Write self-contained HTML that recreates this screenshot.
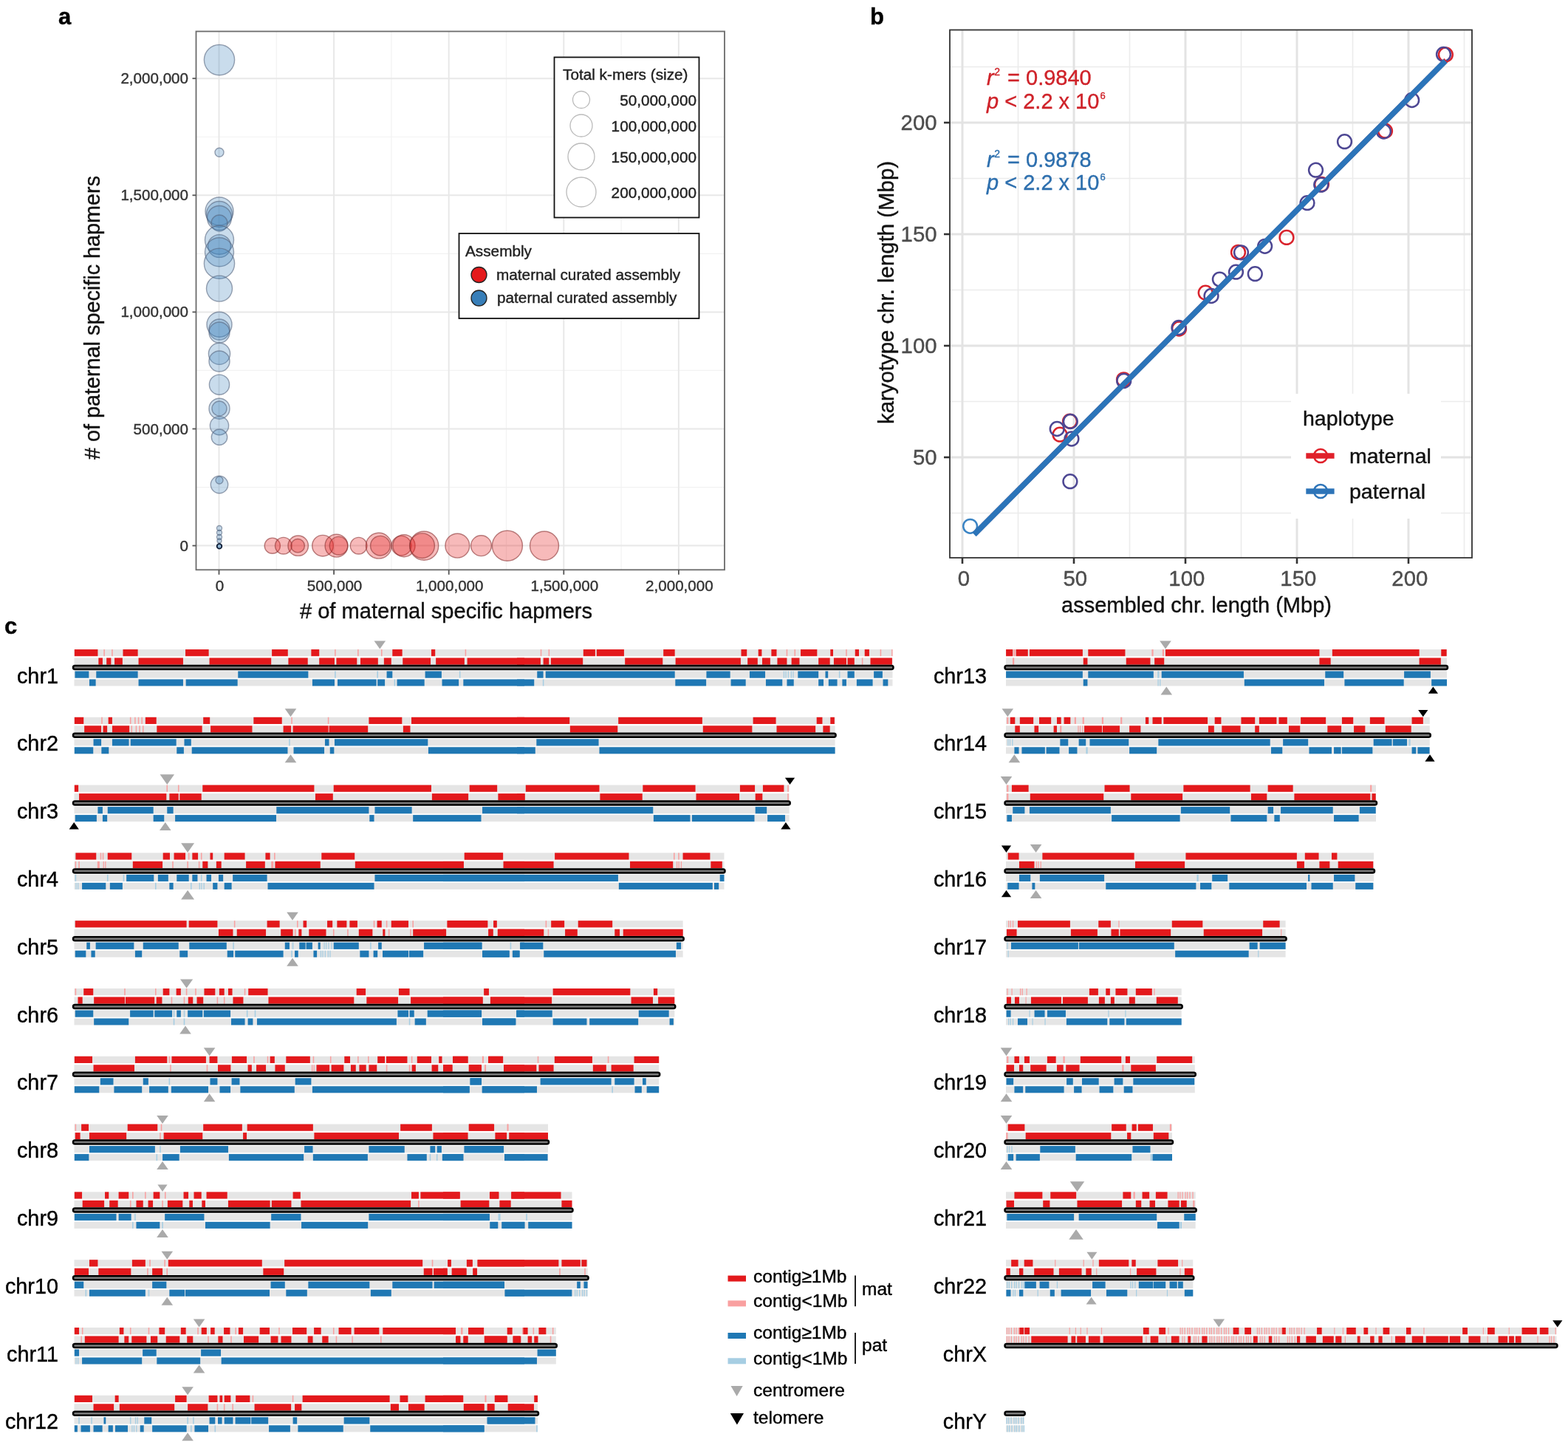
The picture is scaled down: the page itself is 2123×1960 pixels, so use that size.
<!DOCTYPE html>
<html><head><meta charset="utf-8"><title>Figure</title>
<style>html,body{margin:0;padding:0;background:#fff;overflow:hidden}svg{display:block}</style>
</head><body>
<svg width="2123" height="1960" viewBox="0 0 2123 1960" font-family='"Liberation Sans", Arial, sans-serif'>
<rect width="2123" height="1960" fill="#fff"/>
<rect x="265.5" y="42.5" width="715.5" height="728.8" fill="#fff"/>
<line x1="374.3" y1="42.5" x2="374.3" y2="771.3" stroke="#f2f2f2" stroke-width="1.2"/>
<line x1="265.5" y1="659.55" x2="981" y2="659.55" stroke="#f2f2f2" stroke-width="1.2"/>
<line x1="529.9" y1="42.5" x2="529.9" y2="771.3" stroke="#f2f2f2" stroke-width="1.2"/>
<line x1="265.5" y1="501.45" x2="981" y2="501.45" stroke="#f2f2f2" stroke-width="1.2"/>
<line x1="685.5" y1="42.5" x2="685.5" y2="771.3" stroke="#f2f2f2" stroke-width="1.2"/>
<line x1="265.5" y1="343.35" x2="981" y2="343.35" stroke="#f2f2f2" stroke-width="1.2"/>
<line x1="841.1" y1="42.5" x2="841.1" y2="771.3" stroke="#f2f2f2" stroke-width="1.2"/>
<line x1="265.5" y1="185.25" x2="981" y2="185.25" stroke="#f2f2f2" stroke-width="1.2"/>
<line x1="296.5" y1="42.5" x2="296.5" y2="771.3" stroke="#e8e8e8" stroke-width="2"/>
<line x1="265.5" y1="738.6" x2="981" y2="738.6" stroke="#e8e8e8" stroke-width="2"/>
<line x1="452.1" y1="42.5" x2="452.1" y2="771.3" stroke="#e8e8e8" stroke-width="2"/>
<line x1="265.5" y1="580.5" x2="981" y2="580.5" stroke="#e8e8e8" stroke-width="2"/>
<line x1="607.7" y1="42.5" x2="607.7" y2="771.3" stroke="#e8e8e8" stroke-width="2"/>
<line x1="265.5" y1="422.4" x2="981" y2="422.4" stroke="#e8e8e8" stroke-width="2"/>
<line x1="763.3" y1="42.5" x2="763.3" y2="771.3" stroke="#e8e8e8" stroke-width="2"/>
<line x1="265.5" y1="264.3" x2="981" y2="264.3" stroke="#e8e8e8" stroke-width="2"/>
<line x1="918.9" y1="42.5" x2="918.9" y2="771.3" stroke="#e8e8e8" stroke-width="2"/>
<line x1="265.5" y1="106.2" x2="981" y2="106.2" stroke="#e8e8e8" stroke-width="2"/>
<circle cx="297" cy="81.1" r="20.6" fill="#377eb8" fill-opacity="0.27" stroke="#56657e" stroke-opacity="0.6" stroke-width="1.4"/>
<circle cx="297" cy="206.2" r="6" fill="#377eb8" fill-opacity="0.27" stroke="#56657e" stroke-opacity="0.6" stroke-width="1.4"/>
<circle cx="297" cy="286" r="19" fill="#377eb8" fill-opacity="0.27" stroke="#56657e" stroke-opacity="0.6" stroke-width="1.4"/>
<circle cx="297" cy="290" r="17.5" fill="#377eb8" fill-opacity="0.27" stroke="#56657e" stroke-opacity="0.6" stroke-width="1.4"/>
<circle cx="297" cy="295" r="16.5" fill="#377eb8" fill-opacity="0.27" stroke="#56657e" stroke-opacity="0.6" stroke-width="1.4"/>
<circle cx="297" cy="302" r="11" fill="#377eb8" fill-opacity="0.27" stroke="#56657e" stroke-opacity="0.6" stroke-width="1.4"/>
<circle cx="297" cy="324.8" r="19.5" fill="#377eb8" fill-opacity="0.27" stroke="#56657e" stroke-opacity="0.6" stroke-width="1.4"/>
<circle cx="297" cy="333" r="15.4" fill="#377eb8" fill-opacity="0.27" stroke="#56657e" stroke-opacity="0.6" stroke-width="1.4"/>
<circle cx="297" cy="341.2" r="19.5" fill="#377eb8" fill-opacity="0.27" stroke="#56657e" stroke-opacity="0.6" stroke-width="1.4"/>
<circle cx="297" cy="356.7" r="20.6" fill="#377eb8" fill-opacity="0.27" stroke="#56657e" stroke-opacity="0.6" stroke-width="1.4"/>
<circle cx="297" cy="390.6" r="17.5" fill="#377eb8" fill-opacity="0.27" stroke="#56657e" stroke-opacity="0.6" stroke-width="1.4"/>
<circle cx="297" cy="439.3" r="17" fill="#377eb8" fill-opacity="0.27" stroke="#56657e" stroke-opacity="0.6" stroke-width="1.4"/>
<circle cx="297" cy="446" r="14" fill="#377eb8" fill-opacity="0.27" stroke="#56657e" stroke-opacity="0.6" stroke-width="1.4"/>
<circle cx="297" cy="450" r="14" fill="#377eb8" fill-opacity="0.27" stroke="#56657e" stroke-opacity="0.6" stroke-width="1.4"/>
<circle cx="297" cy="478.8" r="14.6" fill="#377eb8" fill-opacity="0.27" stroke="#56657e" stroke-opacity="0.6" stroke-width="1.4"/>
<circle cx="297" cy="489" r="14" fill="#377eb8" fill-opacity="0.27" stroke="#56657e" stroke-opacity="0.6" stroke-width="1.4"/>
<circle cx="297" cy="520.7" r="13.6" fill="#377eb8" fill-opacity="0.27" stroke="#56657e" stroke-opacity="0.6" stroke-width="1.4"/>
<circle cx="297" cy="553.2" r="14" fill="#377eb8" fill-opacity="0.27" stroke="#56657e" stroke-opacity="0.6" stroke-width="1.4"/>
<circle cx="297" cy="553" r="10" fill="#377eb8" fill-opacity="0.27" stroke="#56657e" stroke-opacity="0.6" stroke-width="1.4"/>
<circle cx="297" cy="576.2" r="12.6" fill="#377eb8" fill-opacity="0.27" stroke="#56657e" stroke-opacity="0.6" stroke-width="1.4"/>
<circle cx="297" cy="591.7" r="10.7" fill="#377eb8" fill-opacity="0.27" stroke="#56657e" stroke-opacity="0.6" stroke-width="1.4"/>
<circle cx="297" cy="656" r="11.7" fill="#377eb8" fill-opacity="0.27" stroke="#56657e" stroke-opacity="0.6" stroke-width="1.4"/>
<circle cx="297" cy="650" r="5" fill="#377eb8" fill-opacity="0.27" stroke="#56657e" stroke-opacity="0.6" stroke-width="1.4"/>
<circle cx="297" cy="715" r="3.5" fill="#377eb8" fill-opacity="0.27" stroke="#56657e" stroke-opacity="0.6" stroke-width="1.4"/>
<circle cx="297" cy="721" r="3.5" fill="#377eb8" fill-opacity="0.27" stroke="#56657e" stroke-opacity="0.6" stroke-width="1.4"/>
<circle cx="297" cy="727" r="3.5" fill="#377eb8" fill-opacity="0.27" stroke="#56657e" stroke-opacity="0.6" stroke-width="1.4"/>
<circle cx="297" cy="732" r="3" fill="#377eb8" fill-opacity="0.27" stroke="#56657e" stroke-opacity="0.6" stroke-width="1.4"/>
<circle cx="297" cy="739.4" r="3.3" fill="#377eb8" fill-opacity="0.5" stroke="#0b1a33" stroke-width="1.8"/>
<circle cx="368.8" cy="738.7" r="10.6" fill="#e41a1c" fill-opacity="0.3" stroke="#8a3434" stroke-opacity="0.6" stroke-width="1.4"/>
<circle cx="383.8" cy="738.7" r="11.3" fill="#e41a1c" fill-opacity="0.3" stroke="#8a3434" stroke-opacity="0.6" stroke-width="1.4"/>
<circle cx="403.7" cy="738.7" r="13.7" fill="#e41a1c" fill-opacity="0.3" stroke="#8a3434" stroke-opacity="0.6" stroke-width="1.4"/>
<circle cx="403.2" cy="738.7" r="9.2" fill="#e41a1c" fill-opacity="0.3" stroke="#8a3434" stroke-opacity="0.6" stroke-width="1.4"/>
<circle cx="437" cy="738.7" r="14.3" fill="#e41a1c" fill-opacity="0.3" stroke="#8a3434" stroke-opacity="0.6" stroke-width="1.4"/>
<circle cx="455.5" cy="738.7" r="15.4" fill="#e41a1c" fill-opacity="0.3" stroke="#8a3434" stroke-opacity="0.6" stroke-width="1.4"/>
<circle cx="458.5" cy="738.7" r="12.3" fill="#e41a1c" fill-opacity="0.3" stroke="#8a3434" stroke-opacity="0.6" stroke-width="1.4"/>
<circle cx="485.6" cy="738.7" r="11.3" fill="#e41a1c" fill-opacity="0.3" stroke="#8a3434" stroke-opacity="0.6" stroke-width="1.4"/>
<circle cx="512.8" cy="738.7" r="17.4" fill="#e41a1c" fill-opacity="0.3" stroke="#8a3434" stroke-opacity="0.6" stroke-width="1.4"/>
<circle cx="514.9" cy="738.7" r="13.3" fill="#e41a1c" fill-opacity="0.3" stroke="#8a3434" stroke-opacity="0.6" stroke-width="1.4"/>
<circle cx="543.5" cy="738.7" r="13.3" fill="#e41a1c" fill-opacity="0.3" stroke="#8a3434" stroke-opacity="0.6" stroke-width="1.4"/>
<circle cx="547" cy="738.7" r="15" fill="#e41a1c" fill-opacity="0.3" stroke="#8a3434" stroke-opacity="0.6" stroke-width="1.4"/>
<circle cx="574.2" cy="738.7" r="19.5" fill="#e41a1c" fill-opacity="0.3" stroke="#8a3434" stroke-opacity="0.6" stroke-width="1.4"/>
<circle cx="571.6" cy="738.7" r="16.8" fill="#e41a1c" fill-opacity="0.3" stroke="#8a3434" stroke-opacity="0.6" stroke-width="1.4"/>
<circle cx="619.3" cy="738.7" r="16.4" fill="#e41a1c" fill-opacity="0.3" stroke="#8a3434" stroke-opacity="0.6" stroke-width="1.4"/>
<circle cx="651.5" cy="738.7" r="13.9" fill="#e41a1c" fill-opacity="0.3" stroke="#8a3434" stroke-opacity="0.6" stroke-width="1.4"/>
<circle cx="686.9" cy="738.7" r="20.5" fill="#e41a1c" fill-opacity="0.3" stroke="#8a3434" stroke-opacity="0.6" stroke-width="1.4"/>
<circle cx="737" cy="738.7" r="19.5" fill="#e41a1c" fill-opacity="0.3" stroke="#8a3434" stroke-opacity="0.6" stroke-width="1.4"/>
<rect x="265.5" y="42.5" width="715.5" height="728.8" fill="none" stroke="#6b6b6b" stroke-width="1.8"/>
<line x1="296.5" y1="771.3" x2="296.5" y2="777.8" stroke="#555" stroke-width="1.8"/>
<text x="297.5" y="800" font-size="20.6" text-anchor="middle" fill="#333" font-weight="normal" stroke="#333" stroke-width="0.4" >0</text>
<line x1="260.5" y1="738.6" x2="265.5" y2="738.6" stroke="#555" stroke-width="1.8"/>
<text x="255" y="745.6" font-size="20.6" text-anchor="end" fill="#333" font-weight="normal" stroke="#333" stroke-width="0.4" >0</text>
<line x1="452.1" y1="771.3" x2="452.1" y2="777.8" stroke="#555" stroke-width="1.8"/>
<text x="453.1" y="800" font-size="20.6" text-anchor="middle" fill="#333" font-weight="normal" stroke="#333" stroke-width="0.4" >500,000</text>
<line x1="260.5" y1="580.5" x2="265.5" y2="580.5" stroke="#555" stroke-width="1.8"/>
<text x="255" y="587.5" font-size="20.6" text-anchor="end" fill="#333" font-weight="normal" stroke="#333" stroke-width="0.4" >500,000</text>
<line x1="607.7" y1="771.3" x2="607.7" y2="777.8" stroke="#555" stroke-width="1.8"/>
<text x="608.7" y="800" font-size="20.6" text-anchor="middle" fill="#333" font-weight="normal" stroke="#333" stroke-width="0.4" >1,000,000</text>
<line x1="260.5" y1="422.4" x2="265.5" y2="422.4" stroke="#555" stroke-width="1.8"/>
<text x="255" y="429.4" font-size="20.6" text-anchor="end" fill="#333" font-weight="normal" stroke="#333" stroke-width="0.4" >1,000,000</text>
<line x1="763.3" y1="771.3" x2="763.3" y2="777.8" stroke="#555" stroke-width="1.8"/>
<text x="764.3" y="800" font-size="20.6" text-anchor="middle" fill="#333" font-weight="normal" stroke="#333" stroke-width="0.4" >1,500,000</text>
<line x1="260.5" y1="264.3" x2="265.5" y2="264.3" stroke="#555" stroke-width="1.8"/>
<text x="255" y="271.3" font-size="20.6" text-anchor="end" fill="#333" font-weight="normal" stroke="#333" stroke-width="0.4" >1,500,000</text>
<line x1="918.9" y1="771.3" x2="918.9" y2="777.8" stroke="#555" stroke-width="1.8"/>
<text x="919.9" y="800" font-size="20.6" text-anchor="middle" fill="#333" font-weight="normal" stroke="#333" stroke-width="0.4" >2,000,000</text>
<line x1="260.5" y1="106.2" x2="265.5" y2="106.2" stroke="#555" stroke-width="1.8"/>
<text x="255" y="113.2" font-size="20.6" text-anchor="end" fill="#333" font-weight="normal" stroke="#333" stroke-width="0.4" >2,000,000</text>
<text x="604" y="837" font-size="29.1" text-anchor="middle" fill="#111" font-weight="normal" stroke="#111" stroke-width="0.4" ># of maternal specific hapmers</text>
<text x="0" y="0" font-size="28.8" text-anchor="middle" fill="#111" font-weight="normal" stroke="#111" stroke-width="0.4" transform="translate(135,430) rotate(-90)"># of paternal specific hapmers</text>
<text x="79" y="33" font-size="31" text-anchor="start" fill="#000" font-weight="bold" stroke="#000" stroke-width="0.4" >a</text>
<rect x="750.5" y="77.5" width="196" height="217" fill="#fff" stroke="#111" stroke-width="1.8"/>
<text x="762" y="108" font-size="20.75" text-anchor="start" fill="#222" font-weight="normal" stroke="#222" stroke-width="0.4" >Total k-mers (size)</text>
<circle cx="787" cy="135" r="11.5" fill="none" stroke="#bbb" stroke-width="1.3"/>
<text x="943" y="143" font-size="20.75" text-anchor="end" fill="#222" font-weight="normal" stroke="#222" stroke-width="0.4" >50,000,000</text>
<circle cx="787" cy="170" r="15" fill="none" stroke="#bbb" stroke-width="1.3"/>
<text x="943" y="178" font-size="20.75" text-anchor="end" fill="#222" font-weight="normal" stroke="#222" stroke-width="0.4" >100,000,000</text>
<circle cx="787" cy="212" r="18" fill="none" stroke="#bbb" stroke-width="1.3"/>
<text x="943" y="220" font-size="20.75" text-anchor="end" fill="#222" font-weight="normal" stroke="#222" stroke-width="0.4" >150,000,000</text>
<circle cx="787" cy="260" r="20" fill="none" stroke="#bbb" stroke-width="1.3"/>
<text x="943" y="268" font-size="20.75" text-anchor="end" fill="#222" font-weight="normal" stroke="#222" stroke-width="0.4" >200,000,000</text>
<rect x="621.5" y="316" width="325" height="115" fill="#fff" stroke="#111" stroke-width="1.8"/>
<text x="630" y="347" font-size="20.75" text-anchor="start" fill="#222" font-weight="normal" stroke="#222" stroke-width="0.4" >Assembly</text>
<circle cx="648.5" cy="372" r="10.5" fill="#e41a1c" stroke="#222" stroke-width="1.3"/>
<circle cx="648.5" cy="403.5" r="10.5" fill="#377eb8" stroke="#222" stroke-width="1.3"/>
<text x="672" y="379" font-size="20.75" text-anchor="start" fill="#222" font-weight="normal" stroke="#222" stroke-width="0.4" >maternal curated assembly</text>
<text x="673" y="410" font-size="20.75" text-anchor="start" fill="#222" font-weight="normal" stroke="#222" stroke-width="0.4" >paternal curated assembly</text>
<rect x="1286" y="40.5" width="707" height="714.5" fill="#fff"/>
<line x1="1378.5" y1="40.5" x2="1378.5" y2="755" stroke="#ececec" stroke-width="1.6"/>
<line x1="1286" y1="694.5" x2="1993" y2="694.5" stroke="#ececec" stroke-width="1.6"/>
<line x1="1529.5" y1="40.5" x2="1529.5" y2="755" stroke="#ececec" stroke-width="1.6"/>
<line x1="1286" y1="543.5" x2="1993" y2="543.5" stroke="#ececec" stroke-width="1.6"/>
<line x1="1680.5" y1="40.5" x2="1680.5" y2="755" stroke="#ececec" stroke-width="1.6"/>
<line x1="1286" y1="392.5" x2="1993" y2="392.5" stroke="#ececec" stroke-width="1.6"/>
<line x1="1831.5" y1="40.5" x2="1831.5" y2="755" stroke="#ececec" stroke-width="1.6"/>
<line x1="1286" y1="241.5" x2="1993" y2="241.5" stroke="#ececec" stroke-width="1.6"/>
<line x1="1982.5" y1="40.5" x2="1982.5" y2="755" stroke="#ececec" stroke-width="1.6"/>
<line x1="1286" y1="90.5" x2="1993" y2="90.5" stroke="#ececec" stroke-width="1.6"/>
<line x1="1303" y1="40.5" x2="1303" y2="755" stroke="#e3e3e3" stroke-width="3"/>
<line x1="1454" y1="40.5" x2="1454" y2="755" stroke="#e3e3e3" stroke-width="3"/>
<line x1="1286" y1="619" x2="1993" y2="619" stroke="#e3e3e3" stroke-width="3"/>
<line x1="1605" y1="40.5" x2="1605" y2="755" stroke="#e3e3e3" stroke-width="3"/>
<line x1="1286" y1="468" x2="1993" y2="468" stroke="#e3e3e3" stroke-width="3"/>
<line x1="1756" y1="40.5" x2="1756" y2="755" stroke="#e3e3e3" stroke-width="3"/>
<line x1="1286" y1="317" x2="1993" y2="317" stroke="#e3e3e3" stroke-width="3"/>
<line x1="1907" y1="40.5" x2="1907" y2="755" stroke="#e3e3e3" stroke-width="3"/>
<line x1="1286" y1="166" x2="1993" y2="166" stroke="#e3e3e3" stroke-width="3"/>
<rect x="1748" y="533" width="203" height="169" fill="#fff"/>
<circle cx="1957.4" cy="74" r="9.4" fill="none" stroke="#d9232c" stroke-width="2.5"/>
<circle cx="1875.5" cy="177.2" r="9.4" fill="none" stroke="#d9232c" stroke-width="2.5"/>
<circle cx="1789.5" cy="249.5" r="9.4" fill="none" stroke="#d9232c" stroke-width="2.5"/>
<circle cx="1742" cy="321.4" r="9.4" fill="none" stroke="#d9232c" stroke-width="2.5"/>
<circle cx="1676.5" cy="341.4" r="9.4" fill="none" stroke="#d9232c" stroke-width="2.5"/>
<circle cx="1632.2" cy="396.2" r="9.4" fill="none" stroke="#d9232c" stroke-width="2.5"/>
<circle cx="1596.5" cy="445" r="9.4" fill="none" stroke="#d9232c" stroke-width="2.5"/>
<circle cx="1521.5" cy="513.8" r="9.4" fill="none" stroke="#d9232c" stroke-width="2.5"/>
<circle cx="1435" cy="588.2" r="9.4" fill="none" stroke="#d9232c" stroke-width="2.5"/>
<circle cx="1448.5" cy="570.2" r="9.4" fill="none" stroke="#d9232c" stroke-width="2.5"/>
<circle cx="1954.5" cy="73.5" r="9.4" fill="none" stroke="#4d4793" stroke-width="2.5"/>
<circle cx="1911.7" cy="135.5" r="9.4" fill="none" stroke="#4d4793" stroke-width="2.5"/>
<circle cx="1873.5" cy="178" r="9.4" fill="none" stroke="#4d4793" stroke-width="2.5"/>
<circle cx="1820.5" cy="191.7" r="9.4" fill="none" stroke="#4d4793" stroke-width="2.5"/>
<circle cx="1781.5" cy="230.2" r="9.4" fill="none" stroke="#4d4793" stroke-width="2.5"/>
<circle cx="1788.7" cy="250.2" r="9.4" fill="none" stroke="#4d4793" stroke-width="2.5"/>
<circle cx="1770" cy="274.7" r="9.4" fill="none" stroke="#4d4793" stroke-width="2.5"/>
<circle cx="1712.6" cy="333.3" r="9.4" fill="none" stroke="#4d4793" stroke-width="2.5"/>
<circle cx="1680.5" cy="341.8" r="9.4" fill="none" stroke="#4d4793" stroke-width="2.5"/>
<circle cx="1699.3" cy="370.7" r="9.4" fill="none" stroke="#4d4793" stroke-width="2.5"/>
<circle cx="1673.5" cy="368.2" r="9.4" fill="none" stroke="#4d4793" stroke-width="2.5"/>
<circle cx="1651.4" cy="378.1" r="9.4" fill="none" stroke="#4d4793" stroke-width="2.5"/>
<circle cx="1640" cy="400.5" r="9.4" fill="none" stroke="#4d4793" stroke-width="2.5"/>
<circle cx="1596" cy="443.5" r="9.4" fill="none" stroke="#4d4793" stroke-width="2.5"/>
<circle cx="1521.7" cy="515.5" r="9.4" fill="none" stroke="#4d4793" stroke-width="2.5"/>
<circle cx="1449.3" cy="570.5" r="9.4" fill="none" stroke="#4d4793" stroke-width="2.5"/>
<circle cx="1431.2" cy="580.5" r="9.4" fill="none" stroke="#4d4793" stroke-width="2.5"/>
<circle cx="1450.9" cy="594" r="9.4" fill="none" stroke="#4d4793" stroke-width="2.5"/>
<circle cx="1448.9" cy="651.7" r="9.4" fill="none" stroke="#4d4793" stroke-width="2.5"/>
<circle cx="1313.6" cy="712.3" r="9.4" fill="none" stroke="#3a84c4" stroke-width="2.5"/>
<line x1="1320" y1="722.5" x2="1958" y2="81.5" stroke="#d9232c" stroke-width="7"/>
<line x1="1319" y1="723.5" x2="1957" y2="82.5" stroke="#2b74b9" stroke-width="7.5"/>
<rect x="1286" y="40.5" width="707" height="714.5" fill="none" stroke="#333" stroke-width="1.8"/>
<line x1="1303" y1="755" x2="1303" y2="763" stroke="#333" stroke-width="2.6"/>
<text x="1304.8" y="793.2" font-size="29.3" text-anchor="middle" fill="#4d4d4d" font-weight="normal" stroke="#4d4d4d" stroke-width="0.4" >0</text>
<line x1="1454" y1="755" x2="1454" y2="763" stroke="#333" stroke-width="2.6"/>
<text x="1455.8" y="793.2" font-size="29.3" text-anchor="middle" fill="#4d4d4d" font-weight="normal" stroke="#4d4d4d" stroke-width="0.4" >50</text>
<line x1="1278" y1="619" x2="1286" y2="619" stroke="#333" stroke-width="2.6"/>
<text x="1268.5" y="629.3" font-size="29.3" text-anchor="end" fill="#4d4d4d" font-weight="normal" stroke="#4d4d4d" stroke-width="0.4" >50</text>
<line x1="1605" y1="755" x2="1605" y2="763" stroke="#333" stroke-width="2.6"/>
<text x="1606.8" y="793.2" font-size="29.3" text-anchor="middle" fill="#4d4d4d" font-weight="normal" stroke="#4d4d4d" stroke-width="0.4" >100</text>
<line x1="1278" y1="468" x2="1286" y2="468" stroke="#333" stroke-width="2.6"/>
<text x="1268.5" y="478.3" font-size="29.3" text-anchor="end" fill="#4d4d4d" font-weight="normal" stroke="#4d4d4d" stroke-width="0.4" >100</text>
<line x1="1756" y1="755" x2="1756" y2="763" stroke="#333" stroke-width="2.6"/>
<text x="1757.8" y="793.2" font-size="29.3" text-anchor="middle" fill="#4d4d4d" font-weight="normal" stroke="#4d4d4d" stroke-width="0.4" >150</text>
<line x1="1278" y1="317" x2="1286" y2="317" stroke="#333" stroke-width="2.6"/>
<text x="1268.5" y="327.3" font-size="29.3" text-anchor="end" fill="#4d4d4d" font-weight="normal" stroke="#4d4d4d" stroke-width="0.4" >150</text>
<line x1="1907" y1="755" x2="1907" y2="763" stroke="#333" stroke-width="2.6"/>
<text x="1908.8" y="793.2" font-size="29.3" text-anchor="middle" fill="#4d4d4d" font-weight="normal" stroke="#4d4d4d" stroke-width="0.4" >200</text>
<line x1="1278" y1="166" x2="1286" y2="166" stroke="#333" stroke-width="2.6"/>
<text x="1268.5" y="176.3" font-size="29.3" text-anchor="end" fill="#4d4d4d" font-weight="normal" stroke="#4d4d4d" stroke-width="0.4" >200</text>
<text x="1620" y="829" font-size="29" text-anchor="middle" fill="#111" font-weight="normal" stroke="#111" stroke-width="0.4" >assembled chr. length (Mbp)</text>
<text x="0" y="0" font-size="29.4" text-anchor="middle" fill="#111" font-weight="normal" stroke="#111" stroke-width="0.4" transform="translate(1210,396) rotate(-90)">karyotype chr. length (Mbp)</text>
<text x="1178" y="32.5" font-size="31" text-anchor="start" fill="#000" font-weight="bold" stroke="#000" stroke-width="0.4" >b</text>
<text x="1336" y="115.2" font-size="29" fill="#cf2229" stroke="#cf2229" stroke-width="0.35"><tspan font-style="italic">r</tspan><tspan font-size="14" dx="0.5" dy="-13">2</tspan><tspan dx="2" dy="13"> = 0.9840</tspan></text>
<text x="1336" y="146.6" font-size="29" fill="#cf2229" stroke="#cf2229" stroke-width="0.35"><tspan font-style="italic">p</tspan> &lt; 2.2 x 10<tspan font-size="13" dx="1" dy="-13">6</tspan></text>
<text x="1336" y="225.6" font-size="29" fill="#2d6fae" stroke="#2d6fae" stroke-width="0.35"><tspan font-style="italic">r</tspan><tspan font-size="14" dx="0.5" dy="-13">2</tspan><tspan dx="2" dy="13"> = 0.9878</tspan></text>
<text x="1336" y="257.0" font-size="29" fill="#2d6fae" stroke="#2d6fae" stroke-width="0.35"><tspan font-style="italic">p</tspan> &lt; 2.2 x 10<tspan font-size="13" dx="1" dy="-13">6</tspan></text>
<text x="1764" y="576" font-size="28.5" text-anchor="start" fill="#111" font-weight="normal" stroke="#111" stroke-width="0.4" >haplotype</text>
<line x1="1768.3" y1="617" x2="1806.6" y2="617" stroke="#e0202a" stroke-width="7.5"/>
<circle cx="1788" cy="617" r="9" fill="none" stroke="#e0202a" stroke-width="2.6"/>
<text x="1827" y="627" font-size="28.5" text-anchor="start" fill="#111" font-weight="normal" stroke="#111" stroke-width="0.4" >maternal</text>
<line x1="1768.3" y1="665" x2="1806.6" y2="665" stroke="#2d74b8" stroke-width="7.5"/>
<circle cx="1788" cy="665" r="9" fill="none" stroke="#2d74b8" stroke-width="2.6"/>
<text x="1827" y="675" font-size="28.5" text-anchor="start" fill="#111" font-weight="normal" stroke="#111" stroke-width="0.4" >paternal</text>
<text x="6" y="858" font-size="31" text-anchor="start" fill="#000" font-weight="bold" stroke="#000" stroke-width="0.4" >c</text>
<rect x="100.5" y="879" width="1108" height="9.2" fill="#e5e5e5"/>
<rect x="100.84" y="879" width="31.59" height="9.2" fill="#e3191c"/>
<rect x="140.33" y="879" width="1.55" height="9.2" fill="#f9a0a0"/>
<rect x="151.16" y="879" width="1.55" height="9.2" fill="#f9a0a0"/>
<rect x="166.49" y="879" width="20.13" height="9.2" fill="#e3191c"/>
<rect x="251.04" y="879" width="31.59" height="9.2" fill="#e3191c"/>
<rect x="368.1" y="879" width="21.68" height="9.2" fill="#e3191c"/>
<rect x="421.37" y="879" width="10.84" height="9.2" fill="#e3191c"/>
<rect x="453.12" y="879" width="1.55" height="9.2" fill="#f9a0a0"/>
<rect x="484.08" y="879" width="1.55" height="9.2" fill="#f9a0a0"/>
<rect x="515.98" y="879" width="1.55" height="9.2" fill="#f9a0a0"/>
<rect x="531.31" y="879" width="13.32" height="9.2" fill="#e3191c"/>
<rect x="583.96" y="879" width="5.26" height="9.2" fill="#e3191c"/>
<rect x="629.64" y="879" width="1.55" height="9.2" fill="#f9a0a0"/>
<rect x="731.74" y="879" width="1.55" height="9.2" fill="#f9a0a0"/>
<rect x="742.58" y="879" width="1.55" height="9.2" fill="#f9a0a0"/>
<rect x="789.81" y="879" width="16.1" height="9.2" fill="#e3191c"/>
<rect x="807.77" y="879" width="37.16" height="9.2" fill="#e3191c"/>
<rect x="898.2" y="879" width="15.48" height="9.2" fill="#e3191c"/>
<rect x="1003.5" y="879" width="7.74" height="9.2" fill="#e3191c"/>
<rect x="1026.73" y="879" width="4.65" height="9.2" fill="#e3191c"/>
<rect x="1044.38" y="879" width="7.12" height="9.2" fill="#e3191c"/>
<rect x="1064.66" y="879" width="1.55" height="9.2" fill="#f9a0a0"/>
<rect x="1075.5" y="879" width="1.55" height="9.2" fill="#f9a0a0"/>
<rect x="1084.02" y="879" width="22.3" height="9.2" fill="#e3191c"/>
<rect x="1124.28" y="879" width="3.72" height="9.2" fill="#e3191c"/>
<rect x="1145.18" y="879" width="1.55" height="9.2" fill="#f9a0a0"/>
<rect x="1157.73" y="879" width="5.26" height="9.2" fill="#e3191c"/>
<rect x="1170.73" y="879" width="6.19" height="9.2" fill="#e3191c"/>
<rect x="1191.64" y="879" width="1.55" height="9.2" fill="#f9a0a0"/>
<rect x="1207.12" y="879" width="1.38" height="9.2" fill="#f9a0a0"/>
<rect x="100.5" y="890.5" width="1108" height="9.2" fill="#e5e5e5"/>
<rect x="133.36" y="890.5" width="5.57" height="9.2" fill="#e3191c"/>
<rect x="144.2" y="890.5" width="6.19" height="9.2" fill="#e3191c"/>
<rect x="155.04" y="890.5" width="10.84" height="9.2" fill="#e3191c"/>
<rect x="187.55" y="890.5" width="60.39" height="9.2" fill="#e3191c"/>
<rect x="283.56" y="890.5" width="83.62" height="9.2" fill="#e3191c"/>
<rect x="390.4" y="890.5" width="26.32" height="9.2" fill="#e3191c"/>
<rect x="432.21" y="890.5" width="20.75" height="9.2" fill="#e3191c"/>
<rect x="455.44" y="890.5" width="27.87" height="9.2" fill="#e3191c"/>
<rect x="487.96" y="890.5" width="23.85" height="9.2" fill="#e3191c"/>
<rect x="519.85" y="890.5" width="9.91" height="9.2" fill="#e3191c"/>
<rect x="545.25" y="890.5" width="37.78" height="9.2" fill="#e3191c"/>
<rect x="590.15" y="890.5" width="38.71" height="9.2" fill="#e3191c"/>
<rect x="632.58" y="890.5" width="77.42" height="9.2" fill="#e3191c"/>
<rect x="700" y="890.5" width="31.9" height="9.2" fill="#e3191c"/>
<rect x="735.61" y="890.5" width="7.74" height="9.2" fill="#e3191c"/>
<rect x="745.83" y="890.5" width="43.36" height="9.2" fill="#e3191c"/>
<rect x="846.18" y="890.5" width="51.1" height="9.2" fill="#e3191c"/>
<rect x="914.62" y="890.5" width="88.26" height="9.2" fill="#e3191c"/>
<rect x="1012.17" y="890.5" width="13.63" height="9.2" fill="#e3191c"/>
<rect x="1031.99" y="890.5" width="10.84" height="9.2" fill="#e3191c"/>
<rect x="1052.43" y="890.5" width="13.01" height="9.2" fill="#e3191c"/>
<rect x="1071.63" y="890.5" width="10.84" height="9.2" fill="#e3191c"/>
<rect x="1108.18" y="890.5" width="15.48" height="9.2" fill="#e3191c"/>
<rect x="1128.93" y="890.5" width="17.03" height="9.2" fill="#e3191c"/>
<rect x="1147.51" y="890.5" width="9.29" height="9.2" fill="#e3191c"/>
<rect x="1166.86" y="890.5" width="1.55" height="9.2" fill="#f9a0a0"/>
<rect x="1178.48" y="890.5" width="29.42" height="9.2" fill="#e3191c"/>
<rect x="100.5" y="908.5" width="1108" height="9.2" fill="#e5e5e5"/>
<rect x="101.46" y="908.5" width="18.89" height="9.2" fill="#1f78b4"/>
<rect x="130.26" y="908.5" width="56.36" height="9.2" fill="#1f78b4"/>
<rect x="322.27" y="908.5" width="95.08" height="9.2" fill="#1f78b4"/>
<rect x="453.12" y="908.5" width="1.55" height="9.2" fill="#a6cee3"/>
<rect x="510.41" y="908.5" width="1.55" height="9.2" fill="#a6cee3"/>
<rect x="523.57" y="908.5" width="7.74" height="9.2" fill="#1f78b4"/>
<rect x="575.6" y="908.5" width="22.3" height="9.2" fill="#1f78b4"/>
<rect x="621.9" y="908.5" width="1.55" height="9.2" fill="#a6cee3"/>
<rect x="727.25" y="908.5" width="8.36" height="9.2" fill="#1f78b4"/>
<rect x="738.71" y="908.5" width="174.98" height="9.2" fill="#1f78b4"/>
<rect x="956.43" y="908.5" width="32.21" height="9.2" fill="#1f78b4"/>
<rect x="1014.96" y="908.5" width="21.06" height="9.2" fill="#1f78b4"/>
<rect x="1060.79" y="908.5" width="1.3" height="9.2" fill="#a6cee3"/>
<rect x="1063.39" y="908.5" width="1.3" height="9.2" fill="#a6cee3"/>
<rect x="1066.69" y="908.5" width="1.3" height="9.2" fill="#a6cee3"/>
<rect x="1070.69" y="908.5" width="1.3" height="9.2" fill="#a6cee3"/>
<rect x="1073.29" y="908.5" width="1.3" height="9.2" fill="#a6cee3"/>
<rect x="1080.3" y="908.5" width="27.87" height="9.2" fill="#1f78b4"/>
<rect x="1117.47" y="908.5" width="3.72" height="9.2" fill="#1f78b4"/>
<rect x="1135.89" y="908.5" width="1.55" height="9.2" fill="#a6cee3"/>
<rect x="1147.51" y="908.5" width="9.29" height="9.2" fill="#1f78b4"/>
<rect x="1183.12" y="908.5" width="11.77" height="9.2" fill="#1f78b4"/>
<rect x="100.5" y="919.5" width="1108" height="9" fill="#e5e5e5"/>
<rect x="120.97" y="919.5" width="8.67" height="9" fill="#1f78b4"/>
<rect x="187.55" y="919.5" width="60.39" height="9" fill="#1f78b4"/>
<rect x="251.66" y="919.5" width="69.99" height="9" fill="#1f78b4"/>
<rect x="422.92" y="919.5" width="30.04" height="9" fill="#1f78b4"/>
<rect x="456.99" y="919.5" width="52.65" height="9" fill="#1f78b4"/>
<rect x="511.18" y="919.5" width="9.91" height="9" fill="#1f78b4"/>
<rect x="533.64" y="919.5" width="1.55" height="9" fill="#a6cee3"/>
<rect x="537.51" y="919.5" width="37.16" height="9" fill="#1f78b4"/>
<rect x="598.52" y="919.5" width="22.61" height="9" fill="#1f78b4"/>
<rect x="627.32" y="919.5" width="82.69" height="9" fill="#1f78b4"/>
<rect x="700" y="919.5" width="23.23" height="9" fill="#1f78b4"/>
<rect x="734.84" y="919.5" width="1.55" height="9" fill="#a6cee3"/>
<rect x="914.31" y="919.5" width="41.81" height="9" fill="#1f78b4"/>
<rect x="989.56" y="919.5" width="20.13" height="9" fill="#1f78b4"/>
<rect x="1036.95" y="919.5" width="22.3" height="9" fill="#1f78b4"/>
<rect x="1065.44" y="919.5" width="9.29" height="9" fill="#1f78b4"/>
<rect x="1108.18" y="919.5" width="6.81" height="9" fill="#1f78b4"/>
<rect x="1121.8" y="919.5" width="11.77" height="9" fill="#1f78b4"/>
<rect x="1140.38" y="919.5" width="5.57" height="9" fill="#1f78b4"/>
<rect x="1159.89" y="919.5" width="21.68" height="9" fill="#1f78b4"/>
<rect x="1195.51" y="919.5" width="6.81" height="9" fill="#1f78b4"/>
<rect x="99" y="901" width="1110.5" height="5" rx="2.5" fill="#7d7d7d" stroke="#000" stroke-width="2.5"/>
<text x="79" y="924.5" font-size="28.8" text-anchor="end" fill="#000" font-weight="normal" stroke="#000" stroke-width="0.4" >chr1</text>
<polygon points="506.5,867.5 522.1,867.5 514.3,878.5" fill="#aaaaaa"/>
<rect x="100.5" y="970.8" width="1030.1" height="9.2" fill="#e5e5e5"/>
<rect x="100.84" y="970.8" width="12.39" height="9.2" fill="#e3191c"/>
<rect x="137.23" y="970.8" width="1.55" height="9.2" fill="#f9a0a0"/>
<rect x="146.67" y="970.8" width="5.26" height="9.2" fill="#e3191c"/>
<rect x="175.94" y="970.8" width="1.55" height="9.2" fill="#f9a0a0"/>
<rect x="182.13" y="970.8" width="1.55" height="9.2" fill="#f9a0a0"/>
<rect x="186.78" y="970.8" width="1.55" height="9.2" fill="#f9a0a0"/>
<rect x="191.42" y="970.8" width="1.55" height="9.2" fill="#f9a0a0"/>
<rect x="196.84" y="970.8" width="14.87" height="9.2" fill="#e3191c"/>
<rect x="275.2" y="970.8" width="8.98" height="9.2" fill="#e3191c"/>
<rect x="343.33" y="970.8" width="38.4" height="9.2" fill="#e3191c"/>
<rect x="394.27" y="970.8" width="1.55" height="9.2" fill="#f9a0a0"/>
<rect x="443.82" y="970.8" width="1.55" height="9.2" fill="#f9a0a0"/>
<rect x="499.41" y="970.8" width="44.91" height="9.2" fill="#e3191c"/>
<rect x="557.02" y="970.8" width="152.99" height="9.2" fill="#e3191c"/>
<rect x="700" y="970.8" width="71.23" height="9.2" fill="#e3191c"/>
<rect x="837.19" y="970.8" width="113.66" height="9.2" fill="#e3191c"/>
<rect x="1019.6" y="970.8" width="30.97" height="9.2" fill="#e3191c"/>
<rect x="1105.7" y="970.8" width="7.74" height="9.2" fill="#e3191c"/>
<rect x="1124.28" y="970.8" width="5.57" height="9.2" fill="#e3191c"/>
<rect x="100.5" y="982.3" width="1030.1" height="9.2" fill="#e5e5e5"/>
<rect x="114.16" y="982.3" width="22.92" height="9.2" fill="#e3191c"/>
<rect x="139.55" y="982.3" width="5.57" height="9.2" fill="#e3191c"/>
<rect x="151.94" y="982.3" width="23.23" height="9.2" fill="#e3191c"/>
<rect x="177.49" y="982.3" width="1.55" height="9.2" fill="#f9a0a0"/>
<rect x="183.68" y="982.3" width="1.55" height="9.2" fill="#f9a0a0"/>
<rect x="188.33" y="982.3" width="1.55" height="9.2" fill="#f9a0a0"/>
<rect x="192.97" y="982.3" width="1.55" height="9.2" fill="#f9a0a0"/>
<rect x="212.33" y="982.3" width="61.32" height="9.2" fill="#e3191c"/>
<rect x="285.11" y="982.3" width="56.36" height="9.2" fill="#e3191c"/>
<rect x="383.59" y="982.3" width="10.53" height="9.2" fill="#e3191c"/>
<rect x="396.6" y="982.3" width="48" height="9.2" fill="#e3191c"/>
<rect x="445.53" y="982.3" width="52.65" height="9.2" fill="#e3191c"/>
<rect x="545.87" y="982.3" width="9.6" height="9.2" fill="#e3191c"/>
<rect x="771.85" y="982.3" width="64.42" height="9.2" fill="#e3191c"/>
<rect x="951.78" y="982.3" width="66.58" height="9.2" fill="#e3191c"/>
<rect x="1051.5" y="982.3" width="52.65" height="9.2" fill="#e3191c"/>
<rect x="1114.37" y="982.3" width="9.29" height="9.2" fill="#e3191c"/>
<rect x="100.5" y="1000.3" width="1030.1" height="9.2" fill="#e5e5e5"/>
<rect x="126.54" y="1000.3" width="10.53" height="9.2" fill="#1f78b4"/>
<rect x="151.94" y="1000.3" width="22.61" height="9.2" fill="#1f78b4"/>
<rect x="176.71" y="1000.3" width="61.94" height="9.2" fill="#1f78b4"/>
<rect x="249.49" y="1000.3" width="9.29" height="9.2" fill="#1f78b4"/>
<rect x="391.18" y="1000.3" width="1.55" height="9.2" fill="#a6cee3"/>
<rect x="439.95" y="1000.3" width="5.57" height="9.2" fill="#1f78b4"/>
<rect x="452.96" y="1000.3" width="126.35" height="9.2" fill="#1f78b4"/>
<rect x="726.32" y="1000.3" width="84.24" height="9.2" fill="#1f78b4"/>
<rect x="100.5" y="1011.3" width="1030.1" height="9" fill="#e5e5e5"/>
<rect x="100.84" y="1011.3" width="25.39" height="9" fill="#1f78b4"/>
<rect x="137.38" y="1011.3" width="9.91" height="9" fill="#1f78b4"/>
<rect x="239.27" y="1011.3" width="9.6" height="9" fill="#1f78b4"/>
<rect x="259.71" y="1011.3" width="129.76" height="9" fill="#1f78b4"/>
<rect x="397.53" y="1011.3" width="41.5" height="9" fill="#1f78b4"/>
<rect x="446.77" y="1011.3" width="5.57" height="9" fill="#1f78b4"/>
<rect x="579.93" y="1011.3" width="130.07" height="9" fill="#1f78b4"/>
<rect x="700" y="1011.3" width="24.78" height="9" fill="#1f78b4"/>
<rect x="811.49" y="1011.3" width="319.11" height="9" fill="#1f78b4"/>
<rect x="99" y="992.8" width="1032.6" height="5" rx="2.5" fill="#7d7d7d" stroke="#000" stroke-width="2.5"/>
<text x="79" y="1016.3" font-size="28.8" text-anchor="end" fill="#000" font-weight="normal" stroke="#000" stroke-width="0.4" >chr2</text>
<polygon points="385.7,959.3 401.3,959.3 393.5,970.3" fill="#aaaaaa"/>
<polygon points="385.7,1032.3 401.3,1032.3 393.5,1021.3" fill="#aaaaaa"/>
<rect x="100.5" y="1062.6" width="968.2" height="9.2" fill="#e5e5e5"/>
<rect x="100.84" y="1062.6" width="5.26" height="9.2" fill="#e3191c"/>
<rect x="225.49" y="1062.6" width="1.55" height="9.2" fill="#f9a0a0"/>
<rect x="240.98" y="1062.6" width="1.55" height="9.2" fill="#f9a0a0"/>
<rect x="274.27" y="1062.6" width="151.13" height="9.2" fill="#e3191c"/>
<rect x="451.72" y="1062.6" width="132.24" height="9.2" fill="#e3191c"/>
<rect x="635.68" y="1062.6" width="37.47" height="9.2" fill="#e3191c"/>
<rect x="711.77" y="1062.6" width="99.72" height="9.2" fill="#e3191c"/>
<rect x="870.33" y="1062.6" width="71.23" height="9.2" fill="#e3191c"/>
<rect x="1001.95" y="1062.6" width="20.13" height="9.2" fill="#e3191c"/>
<rect x="1032.92" y="1062.6" width="28.49" height="9.2" fill="#e3191c"/>
<rect x="1066.21" y="1062.6" width="1.55" height="9.2" fill="#f9a0a0"/>
<rect x="100.5" y="1074.1" width="968.2" height="9.2" fill="#e5e5e5"/>
<rect x="107.03" y="1074.1" width="118.3" height="9.2" fill="#e3191c"/>
<rect x="229.36" y="1074.1" width="12.39" height="9.2" fill="#e3191c"/>
<rect x="243.3" y="1074.1" width="29.42" height="9.2" fill="#e3191c"/>
<rect x="426.95" y="1074.1" width="23.85" height="9.2" fill="#e3191c"/>
<rect x="584.89" y="1074.1" width="49.24" height="9.2" fill="#e3191c"/>
<rect x="674.39" y="1074.1" width="35.61" height="9.2" fill="#e3191c"/>
<rect x="700" y="1074.1" width="10.84" height="9.2" fill="#e3191c"/>
<rect x="812.42" y="1074.1" width="57.29" height="9.2" fill="#e3191c"/>
<rect x="942.49" y="1074.1" width="58.53" height="9.2" fill="#e3191c"/>
<rect x="1022.7" y="1074.1" width="9.6" height="9.2" fill="#e3191c"/>
<rect x="1066.21" y="1074.1" width="1.55" height="9.2" fill="#f9a0a0"/>
<rect x="100.5" y="1092.1" width="968.2" height="9.2" fill="#e5e5e5"/>
<rect x="132.43" y="1092.1" width="6.5" height="9.2" fill="#1f78b4"/>
<rect x="145.74" y="1092.1" width="61.94" height="9.2" fill="#1f78b4"/>
<rect x="226.27" y="1092.1" width="8.36" height="9.2" fill="#1f78b4"/>
<rect x="374.3" y="1092.1" width="125.12" height="9.2" fill="#1f78b4"/>
<rect x="507.47" y="1092.1" width="50.17" height="9.2" fill="#1f78b4"/>
<rect x="653.02" y="1092.1" width="56.98" height="9.2" fill="#1f78b4"/>
<rect x="700" y="1092.1" width="184.27" height="9.2" fill="#1f78b4"/>
<rect x="1022.7" y="1092.1" width="15.48" height="9.2" fill="#1f78b4"/>
<rect x="100.5" y="1103.1" width="968.2" height="9" fill="#e5e5e5"/>
<rect x="101.77" y="1103.1" width="29.11" height="9" fill="#1f78b4"/>
<rect x="138.93" y="1103.1" width="6.19" height="9" fill="#1f78b4"/>
<rect x="207.68" y="1103.1" width="14.56" height="9" fill="#1f78b4"/>
<rect x="237.1" y="1103.1" width="136.88" height="9" fill="#1f78b4"/>
<rect x="500.34" y="1103.1" width="6.19" height="9" fill="#1f78b4"/>
<rect x="559.19" y="1103.1" width="92.29" height="9" fill="#1f78b4"/>
<rect x="884.89" y="1103.1" width="49.55" height="9" fill="#1f78b4"/>
<rect x="936.92" y="1103.1" width="84.55" height="9" fill="#1f78b4"/>
<rect x="1039.11" y="1103.1" width="23.85" height="9" fill="#1f78b4"/>
<rect x="99" y="1084.6" width="970.7" height="5" rx="2.5" fill="#7d7d7d" stroke="#000" stroke-width="2.5"/>
<text x="79" y="1108.1" font-size="28.8" text-anchor="end" fill="#000" font-weight="normal" stroke="#000" stroke-width="0.4" >chr3</text>
<polygon points="216.55,1048.35 236.05,1048.35 226.3,1062.1" fill="#aaaaaa"/>
<polygon points="216,1124.1 231.6,1124.1 223.8,1113.1" fill="#aaaaaa"/>
<polygon points="93.57,1122.45 106.83,1122.45 100.2,1113.1" fill="#000"/>
<polygon points="1062.87,1052.75 1076.13,1052.75 1069.5,1062.1" fill="#000"/>
<polygon points="1057.27,1122.45 1070.53,1122.45 1063.9,1113.1" fill="#000"/>
<rect x="100.5" y="1154.4" width="880" height="9.2" fill="#e5e5e5"/>
<rect x="102.39" y="1154.4" width="27.87" height="9.2" fill="#e3191c"/>
<rect x="135.68" y="1154.4" width="1.55" height="9.2" fill="#f9a0a0"/>
<rect x="138.78" y="1154.4" width="1.55" height="9.2" fill="#f9a0a0"/>
<rect x="145.74" y="1154.4" width="32.52" height="9.2" fill="#e3191c"/>
<rect x="220.69" y="1154.4" width="9.29" height="9.2" fill="#e3191c"/>
<rect x="235.56" y="1154.4" width="15.48" height="9.2" fill="#e3191c"/>
<rect x="254.91" y="1154.4" width="1.55" height="9.2" fill="#f9a0a0"/>
<rect x="260.33" y="1154.4" width="7.74" height="9.2" fill="#e3191c"/>
<rect x="271.94" y="1154.4" width="1.55" height="9.2" fill="#f9a0a0"/>
<rect x="284.49" y="1154.4" width="3.72" height="9.2" fill="#e3191c"/>
<rect x="303.69" y="1154.4" width="27.87" height="9.2" fill="#e3191c"/>
<rect x="359.43" y="1154.4" width="6.19" height="9.2" fill="#e3191c"/>
<rect x="371.05" y="1154.4" width="1.55" height="9.2" fill="#f9a0a0"/>
<rect x="435.31" y="1154.4" width="44.91" height="9.2" fill="#e3191c"/>
<rect x="628.87" y="1154.4" width="52.03" height="9.2" fill="#e3191c"/>
<rect x="628.8" y="1154.4" width="52.34" height="9.2" fill="#e3191c"/>
<rect x="751.13" y="1154.4" width="100.34" height="9.2" fill="#e3191c"/>
<rect x="912.02" y="1154.4" width="1.55" height="9.2" fill="#f9a0a0"/>
<rect x="918.21" y="1154.4" width="1.55" height="9.2" fill="#f9a0a0"/>
<rect x="924.56" y="1154.4" width="36.85" height="9.2" fill="#e3191c"/>
<rect x="100.5" y="1165.9" width="880" height="9.2" fill="#e5e5e5"/>
<rect x="101.61" y="1165.9" width="1.55" height="9.2" fill="#f9a0a0"/>
<rect x="106.26" y="1165.9" width="1.55" height="9.2" fill="#f9a0a0"/>
<rect x="131.81" y="1165.9" width="3.1" height="9.2" fill="#f9a0a0"/>
<rect x="139.55" y="1165.9" width="1.3" height="9.2" fill="#f9a0a0"/>
<rect x="142.15" y="1165.9" width="1.3" height="9.2" fill="#f9a0a0"/>
<rect x="179.81" y="1165.9" width="40.26" height="9.2" fill="#e3191c"/>
<rect x="233.23" y="1165.9" width="1.55" height="9.2" fill="#f9a0a0"/>
<rect x="253.36" y="1165.9" width="1.55" height="9.2" fill="#f9a0a0"/>
<rect x="268.85" y="1165.9" width="1.55" height="9.2" fill="#f9a0a0"/>
<rect x="274.27" y="1165.9" width="7.12" height="9.2" fill="#e3191c"/>
<rect x="292.85" y="1165.9" width="6.81" height="9.2" fill="#e3191c"/>
<rect x="333.11" y="1165.9" width="25.7" height="9.2" fill="#e3191c"/>
<rect x="367.18" y="1165.9" width="3.1" height="9.2" fill="#f9a0a0"/>
<rect x="372.44" y="1165.9" width="61.32" height="9.2" fill="#e3191c"/>
<rect x="480.83" y="1165.9" width="147.1" height="9.2" fill="#e3191c"/>
<rect x="681.51" y="1165.9" width="28.49" height="9.2" fill="#e3191c"/>
<rect x="600" y="1165.9" width="27.25" height="9.2" fill="#e3191c"/>
<rect x="682.07" y="1165.9" width="67.51" height="9.2" fill="#e3191c"/>
<rect x="853.02" y="1165.9" width="58.22" height="9.2" fill="#e3191c"/>
<rect x="915.89" y="1165.9" width="1.3" height="9.2" fill="#f9a0a0"/>
<rect x="918.49" y="1165.9" width="1.3" height="9.2" fill="#f9a0a0"/>
<rect x="921.79" y="1165.9" width="1.3" height="9.2" fill="#f9a0a0"/>
<rect x="962.34" y="1165.9" width="15.48" height="9.2" fill="#e3191c"/>
<rect x="100.5" y="1183.9" width="880" height="9.2" fill="#e5e5e5"/>
<rect x="101.61" y="1183.9" width="1.55" height="9.2" fill="#a6cee3"/>
<rect x="144.97" y="1183.9" width="1.55" height="9.2" fill="#a6cee3"/>
<rect x="166.65" y="1183.9" width="1.55" height="9.2" fill="#a6cee3"/>
<rect x="171.14" y="1183.9" width="37.16" height="9.2" fill="#1f78b4"/>
<rect x="213.88" y="1183.9" width="13.94" height="9.2" fill="#1f78b4"/>
<rect x="239.27" y="1183.9" width="16.41" height="9.2" fill="#1f78b4"/>
<rect x="260.33" y="1183.9" width="7.12" height="9.2" fill="#1f78b4"/>
<rect x="271.94" y="1183.9" width="1.55" height="9.2" fill="#a6cee3"/>
<rect x="279.53" y="1183.9" width="6.5" height="9.2" fill="#1f78b4"/>
<rect x="295.95" y="1183.9" width="6.19" height="9.2" fill="#1f78b4"/>
<rect x="315.15" y="1183.9" width="46.45" height="9.2" fill="#1f78b4"/>
<rect x="507.47" y="1183.9" width="202.54" height="9.2" fill="#1f78b4"/>
<rect x="600" y="1183.9" width="236.92" height="9.2" fill="#1f78b4"/>
<rect x="974.73" y="1183.9" width="5.77" height="9.2" fill="#1f78b4"/>
<rect x="100.5" y="1194.9" width="880" height="9" fill="#e5e5e5"/>
<rect x="102.39" y="1194.9" width="1.3" height="9" fill="#a6cee3"/>
<rect x="104.99" y="1194.9" width="1.3" height="9" fill="#a6cee3"/>
<rect x="111.06" y="1194.9" width="32.21" height="9" fill="#1f78b4"/>
<rect x="148.84" y="1194.9" width="17.03" height="9" fill="#1f78b4"/>
<rect x="210.01" y="1194.9" width="1.55" height="9" fill="#a6cee3"/>
<rect x="229.36" y="1194.9" width="5.26" height="9" fill="#1f78b4"/>
<rect x="258.01" y="1194.9" width="1.55" height="9" fill="#a6cee3"/>
<rect x="269.62" y="1194.9" width="1.3" height="9" fill="#a6cee3"/>
<rect x="272.22" y="1194.9" width="1.3" height="9" fill="#a6cee3"/>
<rect x="275.52" y="1194.9" width="1.3" height="9" fill="#a6cee3"/>
<rect x="288.2" y="1194.9" width="6.19" height="9" fill="#1f78b4"/>
<rect x="303.69" y="1194.9" width="9.91" height="9" fill="#1f78b4"/>
<rect x="362.53" y="1194.9" width="144.01" height="9" fill="#1f78b4"/>
<rect x="837.84" y="1194.9" width="126.97" height="9" fill="#1f78b4"/>
<rect x="966.99" y="1194.9" width="6.19" height="9" fill="#1f78b4"/>
<rect x="99" y="1176.4" width="882.5" height="5" rx="2.5" fill="#7d7d7d" stroke="#000" stroke-width="2.5"/>
<text x="79" y="1199.9" font-size="28.8" text-anchor="end" fill="#000" font-weight="normal" stroke="#000" stroke-width="0.4" >chr4</text>
<polygon points="245.13,1141.25 263.07,1141.25 254.1,1153.9" fill="#aaaaaa"/>
<polygon points="245.13,1217.55 263.07,1217.55 254.1,1204.9" fill="#aaaaaa"/>
<rect x="100.5" y="1246.2" width="824.2" height="9.2" fill="#e5e5e5"/>
<rect x="101.77" y="1246.2" width="150.82" height="9.2" fill="#e3191c"/>
<rect x="255.69" y="1246.2" width="38.71" height="9.2" fill="#e3191c"/>
<rect x="316.85" y="1246.2" width="1.55" height="9.2" fill="#f9a0a0"/>
<rect x="361.6" y="1246.2" width="17.03" height="9.2" fill="#e3191c"/>
<rect x="402.02" y="1246.2" width="1.55" height="9.2" fill="#f9a0a0"/>
<rect x="410.53" y="1246.2" width="4.65" height="9.2" fill="#e3191c"/>
<rect x="443.05" y="1246.2" width="7.12" height="9.2" fill="#e3191c"/>
<rect x="456.37" y="1246.2" width="13.01" height="9.2" fill="#e3191c"/>
<rect x="473.4" y="1246.2" width="10.53" height="9.2" fill="#e3191c"/>
<rect x="505.76" y="1246.2" width="1.55" height="9.2" fill="#f9a0a0"/>
<rect x="510.56" y="1246.2" width="6.19" height="9.2" fill="#e3191c"/>
<rect x="522.8" y="1246.2" width="1.55" height="9.2" fill="#f9a0a0"/>
<rect x="529.76" y="1246.2" width="23.23" height="9.2" fill="#e3191c"/>
<rect x="558.41" y="1246.2" width="1.55" height="9.2" fill="#f9a0a0"/>
<rect x="605.64" y="1246.2" width="54.2" height="9.2" fill="#e3191c"/>
<rect x="668.51" y="1246.2" width="3.72" height="9.2" fill="#e3191c"/>
<rect x="605.57" y="1246.2" width="54.82" height="9.2" fill="#e3191c"/>
<rect x="668.13" y="1246.2" width="4.65" height="9.2" fill="#e3191c"/>
<rect x="738.59" y="1246.2" width="1.55" height="9.2" fill="#f9a0a0"/>
<rect x="746.18" y="1246.2" width="17.96" height="9.2" fill="#e3191c"/>
<rect x="782.72" y="1246.2" width="46.45" height="9.2" fill="#e3191c"/>
<rect x="100.5" y="1257.7" width="824.2" height="9.2" fill="#e5e5e5"/>
<rect x="295.95" y="1257.7" width="19.51" height="9.2" fill="#e3191c"/>
<rect x="320.72" y="1257.7" width="39.33" height="9.2" fill="#e3191c"/>
<rect x="380.18" y="1257.7" width="16.41" height="9.2" fill="#e3191c"/>
<rect x="398.92" y="1257.7" width="1.55" height="9.2" fill="#f9a0a0"/>
<rect x="404.34" y="1257.7" width="4.03" height="9.2" fill="#e3191c"/>
<rect x="418.28" y="1257.7" width="23.23" height="9.2" fill="#e3191c"/>
<rect x="450.95" y="1257.7" width="1.55" height="9.2" fill="#f9a0a0"/>
<rect x="470.15" y="1257.7" width="1.55" height="9.2" fill="#f9a0a0"/>
<rect x="485.79" y="1257.7" width="18.58" height="9.2" fill="#e3191c"/>
<rect x="518.31" y="1257.7" width="3.1" height="9.2" fill="#e3191c"/>
<rect x="525.89" y="1257.7" width="1.55" height="9.2" fill="#f9a0a0"/>
<rect x="555.31" y="1257.7" width="1.55" height="9.2" fill="#f9a0a0"/>
<rect x="559.19" y="1257.7" width="44.91" height="9.2" fill="#e3191c"/>
<rect x="661.38" y="1257.7" width="6.19" height="9.2" fill="#e3191c"/>
<rect x="673.77" y="1257.7" width="36.23" height="9.2" fill="#e3191c"/>
<rect x="600" y="1257.7" width="3.72" height="9.2" fill="#e3191c"/>
<rect x="661.32" y="1257.7" width="6.19" height="9.2" fill="#e3191c"/>
<rect x="674.33" y="1257.7" width="61.94" height="9.2" fill="#e3191c"/>
<rect x="741.68" y="1257.7" width="1.55" height="9.2" fill="#f9a0a0"/>
<rect x="765.07" y="1257.7" width="16.72" height="9.2" fill="#e3191c"/>
<rect x="832.27" y="1257.7" width="6.81" height="9.2" fill="#e3191c"/>
<rect x="843.73" y="1257.7" width="80.97" height="9.2" fill="#e3191c"/>
<rect x="100.5" y="1275.7" width="824.2" height="9.2" fill="#e5e5e5"/>
<rect x="117.25" y="1275.7" width="4.65" height="9.2" fill="#1f78b4"/>
<rect x="129.64" y="1275.7" width="51.72" height="9.2" fill="#1f78b4"/>
<rect x="193.75" y="1275.7" width="48" height="9.2" fill="#1f78b4"/>
<rect x="256.31" y="1275.7" width="50.48" height="9.2" fill="#1f78b4"/>
<rect x="315.3" y="1275.7" width="1.55" height="9.2" fill="#a6cee3"/>
<rect x="385.76" y="1275.7" width="6.19" height="9.2" fill="#1f78b4"/>
<rect x="395.82" y="1275.7" width="1.55" height="9.2" fill="#a6cee3"/>
<rect x="405.27" y="1275.7" width="8.36" height="9.2" fill="#1f78b4"/>
<rect x="414.56" y="1275.7" width="8.36" height="9.2" fill="#1f78b4"/>
<rect x="430.66" y="1275.7" width="3.1" height="9.2" fill="#1f78b4"/>
<rect x="438.41" y="1275.7" width="1.3" height="9.2" fill="#a6cee3"/>
<rect x="441.01" y="1275.7" width="1.3" height="9.2" fill="#a6cee3"/>
<rect x="444.31" y="1275.7" width="1.3" height="9.2" fill="#a6cee3"/>
<rect x="448.31" y="1275.7" width="1.3" height="9.2" fill="#a6cee3"/>
<rect x="451.72" y="1275.7" width="34.07" height="9.2" fill="#1f78b4"/>
<rect x="501.12" y="1275.7" width="1.55" height="9.2" fill="#a6cee3"/>
<rect x="512.11" y="1275.7" width="4.65" height="9.2" fill="#1f78b4"/>
<rect x="574.05" y="1275.7" width="78.04" height="9.2" fill="#1f78b4"/>
<rect x="690.65" y="1275.7" width="1.55" height="9.2" fill="#a6cee3"/>
<rect x="704.12" y="1275.7" width="5.88" height="9.2" fill="#1f78b4"/>
<rect x="600" y="1275.7" width="52.65" height="9.2" fill="#1f78b4"/>
<rect x="704.37" y="1275.7" width="30.97" height="9.2" fill="#1f78b4"/>
<rect x="915.89" y="1275.7" width="6.19" height="9.2" fill="#1f78b4"/>
<rect x="100.5" y="1286.7" width="824.2" height="9" fill="#e5e5e5"/>
<rect x="101.77" y="1286.7" width="14.56" height="9" fill="#1f78b4"/>
<rect x="123.45" y="1286.7" width="5.26" height="9" fill="#1f78b4"/>
<rect x="182.91" y="1286.7" width="9.29" height="9" fill="#1f78b4"/>
<rect x="243.3" y="1286.7" width="10.84" height="9" fill="#1f78b4"/>
<rect x="307.71" y="1286.7" width="8.36" height="9" fill="#1f78b4"/>
<rect x="318.24" y="1286.7" width="65.35" height="9" fill="#1f78b4"/>
<rect x="394.27" y="1286.7" width="1.55" height="9" fill="#a6cee3"/>
<rect x="399.07" y="1286.7" width="4.65" height="9" fill="#1f78b4"/>
<rect x="424.47" y="1286.7" width="4.65" height="9" fill="#1f78b4"/>
<rect x="433.76" y="1286.7" width="1.3" height="9" fill="#a6cee3"/>
<rect x="436.36" y="1286.7" width="1.3" height="9" fill="#a6cee3"/>
<rect x="439.66" y="1286.7" width="1.3" height="9" fill="#a6cee3"/>
<rect x="443.66" y="1286.7" width="1.3" height="9" fill="#a6cee3"/>
<rect x="446.26" y="1286.7" width="1.3" height="9" fill="#a6cee3"/>
<rect x="487.34" y="1286.7" width="12.08" height="9" fill="#1f78b4"/>
<rect x="505.61" y="1286.7" width="5.57" height="9" fill="#1f78b4"/>
<rect x="518" y="1286.7" width="35" height="9" fill="#1f78b4"/>
<rect x="553.92" y="1286.7" width="19.2" height="9" fill="#1f78b4"/>
<rect x="653.02" y="1286.7" width="36.23" height="9" fill="#1f78b4"/>
<rect x="693.9" y="1286.7" width="8.67" height="9" fill="#1f78b4"/>
<rect x="653.58" y="1286.7" width="36.23" height="9" fill="#1f78b4"/>
<rect x="694.46" y="1286.7" width="9.29" height="9" fill="#1f78b4"/>
<rect x="736.27" y="1286.7" width="178.69" height="9" fill="#1f78b4"/>
<rect x="99" y="1268.2" width="826.7" height="5" rx="2.5" fill="#7d7d7d" stroke="#000" stroke-width="2.5"/>
<text x="79" y="1291.7" font-size="28.8" text-anchor="end" fill="#000" font-weight="normal" stroke="#000" stroke-width="0.4" >chr5</text>
<polygon points="388.2,1234.7 403.8,1234.7 396,1245.7" fill="#aaaaaa"/>
<polygon points="388.2,1307.7 403.8,1307.7 396,1296.7" fill="#aaaaaa"/>
<rect x="100.5" y="1338" width="812.8" height="9.2" fill="#e5e5e5"/>
<rect x="101.61" y="1338" width="1.55" height="9.2" fill="#f9a0a0"/>
<rect x="113.23" y="1338" width="13.01" height="9.2" fill="#e3191c"/>
<rect x="168.2" y="1338" width="1.55" height="9.2" fill="#f9a0a0"/>
<rect x="210.01" y="1338" width="1.55" height="9.2" fill="#f9a0a0"/>
<rect x="220.69" y="1338" width="8.67" height="9.2" fill="#e3191c"/>
<rect x="238.65" y="1338" width="6.19" height="9.2" fill="#e3191c"/>
<rect x="251.81" y="1338" width="1.55" height="9.2" fill="#f9a0a0"/>
<rect x="264.2" y="1338" width="1.55" height="9.2" fill="#f9a0a0"/>
<rect x="276.44" y="1338" width="14.87" height="9.2" fill="#e3191c"/>
<rect x="296.88" y="1338" width="6.81" height="9.2" fill="#e3191c"/>
<rect x="308.95" y="1338" width="5.57" height="9.2" fill="#e3191c"/>
<rect x="330.79" y="1338" width="1.55" height="9.2" fill="#f9a0a0"/>
<rect x="336.21" y="1338" width="26.32" height="9.2" fill="#e3191c"/>
<rect x="482.69" y="1338" width="12.39" height="9.2" fill="#e3191c"/>
<rect x="539.98" y="1338" width="14.56" height="9.2" fill="#e3191c"/>
<rect x="655.19" y="1338" width="6.19" height="9.2" fill="#e3191c"/>
<rect x="655.74" y="1338" width="6.19" height="9.2" fill="#e3191c"/>
<rect x="748.65" y="1338" width="104.68" height="9.2" fill="#e3191c"/>
<rect x="884.92" y="1338" width="5.26" height="9.2" fill="#e3191c"/>
<rect x="100.5" y="1349.5" width="812.8" height="9.2" fill="#e5e5e5"/>
<rect x="105.48" y="1349.5" width="6.19" height="9.2" fill="#e3191c"/>
<rect x="127.16" y="1349.5" width="41.81" height="9.2" fill="#e3191c"/>
<rect x="169.9" y="1349.5" width="39.33" height="9.2" fill="#e3191c"/>
<rect x="211.71" y="1349.5" width="7.74" height="9.2" fill="#e3191c"/>
<rect x="231.68" y="1349.5" width="1.55" height="9.2" fill="#f9a0a0"/>
<rect x="248.72" y="1349.5" width="1.55" height="9.2" fill="#f9a0a0"/>
<rect x="254.76" y="1349.5" width="6.5" height="9.2" fill="#e3191c"/>
<rect x="266.53" y="1349.5" width="8.67" height="9.2" fill="#e3191c"/>
<rect x="293.62" y="1349.5" width="1.55" height="9.2" fill="#f9a0a0"/>
<rect x="302.91" y="1349.5" width="1.55" height="9.2" fill="#f9a0a0"/>
<rect x="315.46" y="1349.5" width="13.94" height="9.2" fill="#e3191c"/>
<rect x="363.46" y="1349.5" width="115.83" height="9.2" fill="#e3191c"/>
<rect x="496.32" y="1349.5" width="42.74" height="9.2" fill="#e3191c"/>
<rect x="556.09" y="1349.5" width="97.55" height="9.2" fill="#e3191c"/>
<rect x="663.86" y="1349.5" width="46.14" height="9.2" fill="#e3191c"/>
<rect x="600" y="1349.5" width="53.58" height="9.2" fill="#e3191c"/>
<rect x="664.11" y="1349.5" width="83" height="9.2" fill="#e3191c"/>
<rect x="854.57" y="1349.5" width="29.42" height="9.2" fill="#e3191c"/>
<rect x="891.11" y="1349.5" width="22.19" height="9.2" fill="#e3191c"/>
<rect x="100.5" y="1367.5" width="812.8" height="9.2" fill="#e5e5e5"/>
<rect x="101.77" y="1367.5" width="24.47" height="9.2" fill="#1f78b4"/>
<rect x="176.09" y="1367.5" width="31.59" height="9.2" fill="#1f78b4"/>
<rect x="209.23" y="1367.5" width="23.85" height="9.2" fill="#1f78b4"/>
<rect x="234.78" y="1367.5" width="1.55" height="9.2" fill="#a6cee3"/>
<rect x="239.27" y="1367.5" width="5.57" height="9.2" fill="#1f78b4"/>
<rect x="248.72" y="1367.5" width="1.55" height="9.2" fill="#a6cee3"/>
<rect x="254.14" y="1367.5" width="20.13" height="9.2" fill="#1f78b4"/>
<rect x="275.82" y="1367.5" width="36.23" height="9.2" fill="#1f78b4"/>
<rect x="333.88" y="1367.5" width="1.55" height="9.2" fill="#a6cee3"/>
<rect x="344.72" y="1367.5" width="1.55" height="9.2" fill="#a6cee3"/>
<rect x="538.44" y="1367.5" width="14.56" height="9.2" fill="#1f78b4"/>
<rect x="554.54" y="1367.5" width="6.19" height="9.2" fill="#1f78b4"/>
<rect x="578.7" y="1367.5" width="73.4" height="9.2" fill="#1f78b4"/>
<rect x="699.48" y="1367.5" width="10.53" height="9.2" fill="#1f78b4"/>
<rect x="600" y="1367.5" width="51.72" height="9.2" fill="#1f78b4"/>
<rect x="699.1" y="1367.5" width="48.62" height="9.2" fill="#1f78b4"/>
<rect x="864.79" y="1367.5" width="40.88" height="9.2" fill="#1f78b4"/>
<rect x="100.5" y="1378.5" width="812.8" height="9" fill="#e5e5e5"/>
<rect x="127.16" y="1378.5" width="47.07" height="9" fill="#1f78b4"/>
<rect x="234.78" y="1378.5" width="1.55" height="9" fill="#a6cee3"/>
<rect x="248.72" y="1378.5" width="1.55" height="9" fill="#a6cee3"/>
<rect x="312.98" y="1378.5" width="18.58" height="9" fill="#1f78b4"/>
<rect x="335.59" y="1378.5" width="6.81" height="9" fill="#1f78b4"/>
<rect x="347.97" y="1378.5" width="188.91" height="9" fill="#1f78b4"/>
<rect x="553.77" y="1378.5" width="1.55" height="9" fill="#a6cee3"/>
<rect x="561.66" y="1378.5" width="15.17" height="9" fill="#1f78b4"/>
<rect x="653.02" y="1378.5" width="44.6" height="9" fill="#1f78b4"/>
<rect x="653.27" y="1378.5" width="45.22" height="9" fill="#1f78b4"/>
<rect x="748.65" y="1378.5" width="45.83" height="9" fill="#1f78b4"/>
<rect x="798.2" y="1378.5" width="65.96" height="9" fill="#1f78b4"/>
<rect x="906.6" y="1378.5" width="5.26" height="9" fill="#1f78b4"/>
<rect x="99" y="1360" width="815.3" height="5" rx="2.5" fill="#7d7d7d" stroke="#000" stroke-width="2.5"/>
<text x="79" y="1383.5" font-size="28.8" text-anchor="end" fill="#000" font-weight="normal" stroke="#000" stroke-width="0.4" >chr6</text>
<polygon points="244.02,1325.4 261.18,1325.4 252.6,1337.5" fill="#aaaaaa"/>
<polygon points="243.2,1399.5 258.8,1399.5 251,1388.5" fill="#aaaaaa"/>
<rect x="100.5" y="1429.8" width="791.7" height="9.2" fill="#e5e5e5"/>
<rect x="100.84" y="1429.8" width="24.16" height="9.2" fill="#e3191c"/>
<rect x="182.91" y="1429.8" width="43.36" height="9.2" fill="#e3191c"/>
<rect x="228.59" y="1429.8" width="1.55" height="9.2" fill="#f9a0a0"/>
<rect x="232.46" y="1429.8" width="46.45" height="9.2" fill="#e3191c"/>
<rect x="283.56" y="1429.8" width="10.84" height="9.2" fill="#e3191c"/>
<rect x="313.91" y="1429.8" width="20.13" height="9.2" fill="#e3191c"/>
<rect x="343.17" y="1429.8" width="1.55" height="9.2" fill="#f9a0a0"/>
<rect x="361.76" y="1429.8" width="1.55" height="9.2" fill="#f9a0a0"/>
<rect x="365.63" y="1429.8" width="6.19" height="9.2" fill="#e3191c"/>
<rect x="387.31" y="1429.8" width="32.52" height="9.2" fill="#e3191c"/>
<rect x="423.69" y="1429.8" width="1.55" height="9.2" fill="#f9a0a0"/>
<rect x="446.92" y="1429.8" width="1.55" height="9.2" fill="#f9a0a0"/>
<rect x="466.28" y="1429.8" width="7.74" height="9.2" fill="#e3191c"/>
<rect x="484.08" y="1429.8" width="1.55" height="9.2" fill="#f9a0a0"/>
<rect x="498.02" y="1429.8" width="1.55" height="9.2" fill="#f9a0a0"/>
<rect x="511.18" y="1429.8" width="9.91" height="9.2" fill="#e3191c"/>
<rect x="522.95" y="1429.8" width="28.49" height="9.2" fill="#e3191c"/>
<rect x="556.86" y="1429.8" width="1.55" height="9.2" fill="#f9a0a0"/>
<rect x="564.76" y="1429.8" width="19.2" height="9.2" fill="#e3191c"/>
<rect x="594.18" y="1429.8" width="4.34" height="9.2" fill="#e3191c"/>
<rect x="613.38" y="1429.8" width="20.13" height="9.2" fill="#e3191c"/>
<rect x="652.87" y="1429.8" width="1.55" height="9.2" fill="#f9a0a0"/>
<rect x="661.38" y="1429.8" width="19.51" height="9.2" fill="#e3191c"/>
<rect x="613.01" y="1429.8" width="20.44" height="9.2" fill="#e3191c"/>
<rect x="653.42" y="1429.8" width="1.55" height="9.2" fill="#f9a0a0"/>
<rect x="661.01" y="1429.8" width="20.13" height="9.2" fill="#e3191c"/>
<rect x="727.75" y="1429.8" width="1.55" height="9.2" fill="#f9a0a0"/>
<rect x="750.82" y="1429.8" width="51.1" height="9.2" fill="#e3191c"/>
<rect x="822.82" y="1429.8" width="1.55" height="9.2" fill="#f9a0a0"/>
<rect x="858.59" y="1429.8" width="33.61" height="9.2" fill="#e3191c"/>
<rect x="100.5" y="1441.3" width="791.7" height="9.2" fill="#e5e5e5"/>
<rect x="126.54" y="1441.3" width="55.44" height="9.2" fill="#e3191c"/>
<rect x="230.14" y="1441.3" width="1.55" height="9.2" fill="#f9a0a0"/>
<rect x="279.69" y="1441.3" width="1.55" height="9.2" fill="#f9a0a0"/>
<rect x="295.02" y="1441.3" width="17.34" height="9.2" fill="#e3191c"/>
<rect x="335.59" y="1441.3" width="5.26" height="9.2" fill="#e3191c"/>
<rect x="347.05" y="1441.3" width="13.01" height="9.2" fill="#e3191c"/>
<rect x="372.44" y="1441.3" width="13.32" height="9.2" fill="#e3191c"/>
<rect x="421.99" y="1441.3" width="1.3" height="9.2" fill="#f9a0a0"/>
<rect x="424.59" y="1441.3" width="1.3" height="9.2" fill="#f9a0a0"/>
<rect x="428.49" y="1441.3" width="17.65" height="9.2" fill="#e3191c"/>
<rect x="448.62" y="1441.3" width="16.72" height="9.2" fill="#e3191c"/>
<rect x="474.95" y="1441.3" width="6.81" height="9.2" fill="#e3191c"/>
<rect x="486.41" y="1441.3" width="9.29" height="9.2" fill="#e3191c"/>
<rect x="499.41" y="1441.3" width="10.84" height="9.2" fill="#e3191c"/>
<rect x="522.8" y="1441.3" width="1.55" height="9.2" fill="#f9a0a0"/>
<rect x="553.77" y="1441.3" width="1.55" height="9.2" fill="#f9a0a0"/>
<rect x="557.64" y="1441.3" width="5.26" height="9.2" fill="#e3191c"/>
<rect x="584.58" y="1441.3" width="8.67" height="9.2" fill="#e3191c"/>
<rect x="600.07" y="1441.3" width="12.39" height="9.2" fill="#e3191c"/>
<rect x="635.06" y="1441.3" width="16.1" height="9.2" fill="#e3191c"/>
<rect x="655.96" y="1441.3" width="1.55" height="9.2" fill="#f9a0a0"/>
<rect x="682.13" y="1441.3" width="27.87" height="9.2" fill="#e3191c"/>
<rect x="600" y="1441.3" width="12.39" height="9.2" fill="#e3191c"/>
<rect x="634.69" y="1441.3" width="17.34" height="9.2" fill="#e3191c"/>
<rect x="656.52" y="1441.3" width="1.55" height="9.2" fill="#f9a0a0"/>
<rect x="682.07" y="1441.3" width="44.29" height="9.2" fill="#e3191c"/>
<rect x="729.45" y="1441.3" width="20.13" height="9.2" fill="#e3191c"/>
<rect x="802.85" y="1441.3" width="17.96" height="9.2" fill="#e3191c"/>
<rect x="827.62" y="1441.3" width="30.04" height="9.2" fill="#e3191c"/>
<rect x="100.5" y="1459.3" width="791.7" height="9.2" fill="#e5e5e5"/>
<rect x="135.83" y="1459.3" width="17.65" height="9.2" fill="#1f78b4"/>
<rect x="193.75" y="1459.3" width="7.12" height="9.2" fill="#1f78b4"/>
<rect x="228.59" y="1459.3" width="1.55" height="9.2" fill="#a6cee3"/>
<rect x="284.49" y="1459.3" width="9.91" height="9.2" fill="#1f78b4"/>
<rect x="313.6" y="1459.3" width="10.84" height="9.2" fill="#1f78b4"/>
<rect x="399.69" y="1459.3" width="21.68" height="9.2" fill="#1f78b4"/>
<rect x="636.61" y="1459.3" width="14.87" height="9.2" fill="#1f78b4"/>
<rect x="636.54" y="1459.3" width="15.48" height="9.2" fill="#1f78b4"/>
<rect x="731.62" y="1459.3" width="96" height="9.2" fill="#1f78b4"/>
<rect x="832.27" y="1459.3" width="26.32" height="9.2" fill="#1f78b4"/>
<rect x="870.05" y="1459.3" width="4.65" height="9.2" fill="#1f78b4"/>
<rect x="100.5" y="1470.3" width="791.7" height="9" fill="#e5e5e5"/>
<rect x="100.84" y="1470.3" width="33.45" height="9" fill="#1f78b4"/>
<rect x="154.42" y="1470.3" width="37.78" height="9" fill="#1f78b4"/>
<rect x="202.11" y="1470.3" width="25.7" height="9" fill="#1f78b4"/>
<rect x="231.84" y="1470.3" width="50.17" height="9" fill="#1f78b4"/>
<rect x="297.49" y="1470.3" width="14.56" height="9" fill="#1f78b4"/>
<rect x="325.37" y="1470.3" width="73.4" height="9" fill="#1f78b4"/>
<rect x="422.92" y="1470.3" width="212.76" height="9" fill="#1f78b4"/>
<rect x="653.02" y="1470.3" width="56.98" height="9" fill="#1f78b4"/>
<rect x="600" y="1470.3" width="35.61" height="9" fill="#1f78b4"/>
<rect x="652.65" y="1470.3" width="74.33" height="9" fill="#1f78b4"/>
<rect x="828.4" y="1470.3" width="1.55" height="9" fill="#a6cee3"/>
<rect x="859.52" y="1470.3" width="9.29" height="9" fill="#1f78b4"/>
<rect x="875.63" y="1470.3" width="16.57" height="9" fill="#1f78b4"/>
<rect x="99" y="1451.8" width="794.2" height="5" rx="2.5" fill="#7d7d7d" stroke="#000" stroke-width="2.5"/>
<text x="79" y="1475.3" font-size="28.8" text-anchor="end" fill="#000" font-weight="normal" stroke="#000" stroke-width="0.4" >chr7</text>
<polygon points="275.8,1418.3 291.4,1418.3 283.6,1429.3" fill="#aaaaaa"/>
<polygon points="275.8,1491.3 291.4,1491.3 283.6,1480.3" fill="#aaaaaa"/>
<rect x="100.5" y="1521.6" width="641.5" height="9.2" fill="#e5e5e5"/>
<rect x="101.61" y="1521.6" width="1.55" height="9.2" fill="#f9a0a0"/>
<rect x="110.13" y="1521.6" width="9.91" height="9.2" fill="#e3191c"/>
<rect x="172.69" y="1521.6" width="40.57" height="9.2" fill="#e3191c"/>
<rect x="217.75" y="1521.6" width="1.55" height="9.2" fill="#f9a0a0"/>
<rect x="275.2" y="1521.6" width="52.65" height="9.2" fill="#e3191c"/>
<rect x="334.66" y="1521.6" width="89.19" height="9.2" fill="#e3191c"/>
<rect x="542.15" y="1521.6" width="42.74" height="9.2" fill="#e3191c"/>
<rect x="635.06" y="1521.6" width="33.45" height="9.2" fill="#e3191c"/>
<rect x="686.93" y="1521.6" width="1.55" height="9.2" fill="#f9a0a0"/>
<rect x="634.69" y="1521.6" width="34.38" height="9.2" fill="#e3191c"/>
<rect x="686.56" y="1521.6" width="1.55" height="9.2" fill="#f9a0a0"/>
<rect x="100.5" y="1533.1" width="641.5" height="9.2" fill="#e5e5e5"/>
<rect x="101.77" y="1533.1" width="6.81" height="9.2" fill="#e3191c"/>
<rect x="120.97" y="1533.1" width="50.17" height="9.2" fill="#e3191c"/>
<rect x="216.2" y="1533.1" width="1.55" height="9.2" fill="#f9a0a0"/>
<rect x="221.62" y="1533.1" width="52.65" height="9.2" fill="#e3191c"/>
<rect x="329.08" y="1533.1" width="4.96" height="9.2" fill="#e3191c"/>
<rect x="425.4" y="1533.1" width="114.59" height="9.2" fill="#e3191c"/>
<rect x="586.44" y="1533.1" width="47.07" height="9.2" fill="#e3191c"/>
<rect x="670.68" y="1533.1" width="15.48" height="9.2" fill="#e3191c"/>
<rect x="689.26" y="1533.1" width="20.75" height="9.2" fill="#e3191c"/>
<rect x="600" y="1533.1" width="33.14" height="9.2" fill="#e3191c"/>
<rect x="670.61" y="1533.1" width="15.17" height="9.2" fill="#e3191c"/>
<rect x="689.81" y="1533.1" width="52.19" height="9.2" fill="#e3191c"/>
<rect x="100.5" y="1551.1" width="641.5" height="9.2" fill="#e5e5e5"/>
<rect x="120.97" y="1551.1" width="88.88" height="9.2" fill="#1f78b4"/>
<rect x="216.2" y="1551.1" width="1.55" height="9.2" fill="#a6cee3"/>
<rect x="243.92" y="1551.1" width="65.04" height="9.2" fill="#1f78b4"/>
<rect x="412.08" y="1551.1" width="11.46" height="9.2" fill="#1f78b4"/>
<rect x="499.41" y="1551.1" width="48.31" height="9.2" fill="#1f78b4"/>
<rect x="582.41" y="1551.1" width="6.81" height="9.2" fill="#1f78b4"/>
<rect x="591.7" y="1551.1" width="6.19" height="9.2" fill="#1f78b4"/>
<rect x="628.87" y="1551.1" width="52.65" height="9.2" fill="#1f78b4"/>
<rect x="628.49" y="1551.1" width="53.58" height="9.2" fill="#1f78b4"/>
<rect x="100.5" y="1562.1" width="641.5" height="9" fill="#e5e5e5"/>
<rect x="100.84" y="1562.1" width="19.51" height="9" fill="#1f78b4"/>
<rect x="211.55" y="1562.1" width="1.55" height="9" fill="#a6cee3"/>
<rect x="220.07" y="1562.1" width="22.61" height="9" fill="#1f78b4"/>
<rect x="309.88" y="1562.1" width="101.27" height="9" fill="#1f78b4"/>
<rect x="423.85" y="1562.1" width="74.02" height="9" fill="#1f78b4"/>
<rect x="551.44" y="1562.1" width="26.32" height="9" fill="#1f78b4"/>
<rect x="581.64" y="1562.1" width="1.55" height="9" fill="#a6cee3"/>
<rect x="590.93" y="1562.1" width="1.55" height="9" fill="#a6cee3"/>
<rect x="598.83" y="1562.1" width="28.49" height="9" fill="#1f78b4"/>
<rect x="683.06" y="1562.1" width="26.94" height="9" fill="#1f78b4"/>
<rect x="600" y="1562.1" width="27.25" height="9" fill="#1f78b4"/>
<rect x="683" y="1562.1" width="58.53" height="9" fill="#1f78b4"/>
<rect x="99" y="1543.6" width="644" height="5" rx="2.5" fill="#7d7d7d" stroke="#000" stroke-width="2.5"/>
<text x="79" y="1567.1" font-size="28.8" text-anchor="end" fill="#000" font-weight="normal" stroke="#000" stroke-width="0.4" >chr8</text>
<polygon points="212.2,1510.1 227.8,1510.1 220,1521.1" fill="#aaaaaa"/>
<polygon points="212.2,1583.1 227.8,1583.1 220,1572.1" fill="#aaaaaa"/>
<rect x="100.5" y="1613.4" width="674" height="9.2" fill="#e5e5e5"/>
<rect x="100.84" y="1613.4" width="10.22" height="9.2" fill="#e3191c"/>
<rect x="142.03" y="1613.4" width="5.26" height="9.2" fill="#e3191c"/>
<rect x="160.61" y="1613.4" width="13.63" height="9.2" fill="#e3191c"/>
<rect x="179.04" y="1613.4" width="1.55" height="9.2" fill="#f9a0a0"/>
<rect x="196.07" y="1613.4" width="1.55" height="9.2" fill="#f9a0a0"/>
<rect x="207.68" y="1613.4" width="8.67" height="9.2" fill="#e3191c"/>
<rect x="223.01" y="1613.4" width="1.55" height="9.2" fill="#f9a0a0"/>
<rect x="248.56" y="1613.4" width="6.5" height="9.2" fill="#e3191c"/>
<rect x="262.5" y="1613.4" width="10.22" height="9.2" fill="#e3191c"/>
<rect x="279.53" y="1613.4" width="28.18" height="9.2" fill="#e3191c"/>
<rect x="396.6" y="1613.4" width="10.22" height="9.2" fill="#e3191c"/>
<rect x="557.02" y="1613.4" width="9.91" height="9.2" fill="#e3191c"/>
<rect x="569.41" y="1613.4" width="53.27" height="9.2" fill="#e3191c"/>
<rect x="662.93" y="1613.4" width="12.39" height="9.2" fill="#e3191c"/>
<rect x="692.35" y="1613.4" width="17.65" height="9.2" fill="#e3191c"/>
<rect x="600" y="1613.4" width="22.61" height="9.2" fill="#e3191c"/>
<rect x="663.49" y="1613.4" width="11.77" height="9.2" fill="#e3191c"/>
<rect x="692.29" y="1613.4" width="67.2" height="9.2" fill="#e3191c"/>
<rect x="100.5" y="1624.9" width="674" height="9.2" fill="#e5e5e5"/>
<rect x="111.68" y="1624.9" width="29.42" height="9.2" fill="#e3191c"/>
<rect x="148.22" y="1624.9" width="11.46" height="9.2" fill="#e3191c"/>
<rect x="175.94" y="1624.9" width="1.55" height="9.2" fill="#f9a0a0"/>
<rect x="184.46" y="1624.9" width="9.29" height="9.2" fill="#e3191c"/>
<rect x="200.56" y="1624.9" width="6.5" height="9.2" fill="#e3191c"/>
<rect x="219.3" y="1624.9" width="1.55" height="9.2" fill="#f9a0a0"/>
<rect x="226.88" y="1624.9" width="20.44" height="9.2" fill="#e3191c"/>
<rect x="256.31" y="1624.9" width="4.65" height="9.2" fill="#e3191c"/>
<rect x="273.34" y="1624.9" width="4.65" height="9.2" fill="#e3191c"/>
<rect x="308.95" y="1624.9" width="56.67" height="9.2" fill="#e3191c"/>
<rect x="367.79" y="1624.9" width="26.63" height="9.2" fill="#e3191c"/>
<rect x="407.44" y="1624.9" width="148.65" height="9.2" fill="#e3191c"/>
<rect x="566.15" y="1624.9" width="1.55" height="9.2" fill="#f9a0a0"/>
<rect x="623.6" y="1624.9" width="38.71" height="9.2" fill="#e3191c"/>
<rect x="676.87" y="1624.9" width="14.56" height="9.2" fill="#e3191c"/>
<rect x="624.16" y="1624.9" width="37.78" height="9.2" fill="#e3191c"/>
<rect x="676.49" y="1624.9" width="14.87" height="9.2" fill="#e3191c"/>
<rect x="760.42" y="1624.9" width="14.08" height="9.2" fill="#e3191c"/>
<rect x="100.5" y="1642.9" width="674" height="9.2" fill="#e5e5e5"/>
<rect x="100.84" y="1642.9" width="56.67" height="9.2" fill="#1f78b4"/>
<rect x="160.61" y="1642.9" width="17.03" height="9.2" fill="#1f78b4"/>
<rect x="182.13" y="1642.9" width="1.55" height="9.2" fill="#a6cee3"/>
<rect x="223.17" y="1642.9" width="53.27" height="9.2" fill="#1f78b4"/>
<rect x="367.18" y="1642.9" width="40.26" height="9.2" fill="#1f78b4"/>
<rect x="499.41" y="1642.9" width="163.52" height="9.2" fill="#1f78b4"/>
<rect x="674.55" y="1642.9" width="1.55" height="9.2" fill="#a6cee3"/>
<rect x="600" y="1642.9" width="62.56" height="9.2" fill="#1f78b4"/>
<rect x="676.03" y="1642.9" width="1.55" height="9.2" fill="#a6cee3"/>
<rect x="712.26" y="1642.9" width="1.55" height="9.2" fill="#a6cee3"/>
<rect x="100.5" y="1653.9" width="674" height="9" fill="#e5e5e5"/>
<rect x="179.04" y="1653.9" width="1.55" height="9" fill="#a6cee3"/>
<rect x="184.46" y="1653.9" width="31.9" height="9" fill="#1f78b4"/>
<rect x="219.3" y="1653.9" width="1.55" height="9" fill="#a6cee3"/>
<rect x="277.98" y="1653.9" width="87.64" height="9" fill="#1f78b4"/>
<rect x="408.06" y="1653.9" width="90.12" height="9" fill="#1f78b4"/>
<rect x="663.55" y="1653.9" width="10.22" height="9" fill="#1f78b4"/>
<rect x="679.35" y="1653.9" width="30.66" height="9" fill="#1f78b4"/>
<rect x="663.49" y="1653.9" width="10.84" height="9" fill="#1f78b4"/>
<rect x="679.59" y="1653.9" width="30.97" height="9" fill="#1f78b4"/>
<rect x="715.21" y="1653.9" width="59.29" height="9" fill="#1f78b4"/>
<rect x="99" y="1635.4" width="676.5" height="5" rx="2.5" fill="#7d7d7d" stroke="#000" stroke-width="2.5"/>
<text x="79" y="1658.9" font-size="28.8" text-anchor="end" fill="#000" font-weight="normal" stroke="#000" stroke-width="0.4" >chr9</text>
<polygon points="213.37,1603.55 226.63,1603.55 220,1612.9" fill="#aaaaaa"/>
<polygon points="212.2,1674.9 227.8,1674.9 220,1663.9" fill="#aaaaaa"/>
<rect x="100.5" y="1705.2" width="695.1" height="9.2" fill="#e5e5e5"/>
<rect x="120.97" y="1705.2" width="11.46" height="9.2" fill="#e3191c"/>
<rect x="178.88" y="1705.2" width="17.96" height="9.2" fill="#e3191c"/>
<rect x="202.26" y="1705.2" width="1.55" height="9.2" fill="#f9a0a0"/>
<rect x="222.39" y="1705.2" width="1.55" height="9.2" fill="#f9a0a0"/>
<rect x="227.81" y="1705.2" width="126.97" height="9.2" fill="#e3191c"/>
<rect x="385.14" y="1705.2" width="187.05" height="9.2" fill="#e3191c"/>
<rect x="584.74" y="1705.2" width="1.55" height="9.2" fill="#f9a0a0"/>
<rect x="606.57" y="1705.2" width="3.72" height="9.2" fill="#e3191c"/>
<rect x="631.96" y="1705.2" width="7.74" height="9.2" fill="#e3191c"/>
<rect x="646.83" y="1705.2" width="63.18" height="9.2" fill="#e3191c"/>
<rect x="606.19" y="1705.2" width="4.65" height="9.2" fill="#e3191c"/>
<rect x="631.9" y="1705.2" width="7.74" height="9.2" fill="#e3191c"/>
<rect x="646.45" y="1705.2" width="109.94" height="9.2" fill="#e3191c"/>
<rect x="760.42" y="1705.2" width="25.39" height="9.2" fill="#e3191c"/>
<rect x="787.36" y="1705.2" width="7.12" height="9.2" fill="#e3191c"/>
<rect x="100.5" y="1716.7" width="695.1" height="9.2" fill="#e5e5e5"/>
<rect x="100.84" y="1716.7" width="19.2" height="9.2" fill="#e3191c"/>
<rect x="133.36" y="1716.7" width="43.98" height="9.2" fill="#e3191c"/>
<rect x="199.17" y="1716.7" width="1.55" height="9.2" fill="#f9a0a0"/>
<rect x="206.14" y="1716.7" width="13.94" height="9.2" fill="#e3191c"/>
<rect x="225.49" y="1716.7" width="1.55" height="9.2" fill="#f9a0a0"/>
<rect x="356.34" y="1716.7" width="27.87" height="9.2" fill="#e3191c"/>
<rect x="573.74" y="1716.7" width="11.77" height="9.2" fill="#e3191c"/>
<rect x="587.06" y="1716.7" width="18.58" height="9.2" fill="#e3191c"/>
<rect x="611.83" y="1716.7" width="19.51" height="9.2" fill="#e3191c"/>
<rect x="640.63" y="1716.7" width="5.26" height="9.2" fill="#e3191c"/>
<rect x="600" y="1716.7" width="5.57" height="9.2" fill="#e3191c"/>
<rect x="611.77" y="1716.7" width="19.82" height="9.2" fill="#e3191c"/>
<rect x="640.26" y="1716.7" width="5.57" height="9.2" fill="#e3191c"/>
<rect x="757.17" y="1716.7" width="1.55" height="9.2" fill="#f9a0a0"/>
<rect x="791.24" y="1716.7" width="1.55" height="9.2" fill="#f9a0a0"/>
<rect x="100.5" y="1734.7" width="695.1" height="9.2" fill="#e5e5e5"/>
<rect x="100.84" y="1734.7" width="12.39" height="9.2" fill="#1f78b4"/>
<rect x="206.14" y="1734.7" width="19.2" height="9.2" fill="#1f78b4"/>
<rect x="366.56" y="1734.7" width="19.2" height="9.2" fill="#1f78b4"/>
<rect x="417.35" y="1734.7" width="83" height="9.2" fill="#1f78b4"/>
<rect x="531.31" y="1734.7" width="54.2" height="9.2" fill="#1f78b4"/>
<rect x="587.68" y="1734.7" width="94.77" height="9.2" fill="#1f78b4"/>
<rect x="600" y="1734.7" width="83" height="9.2" fill="#1f78b4"/>
<rect x="781.17" y="1734.7" width="4.65" height="9.2" fill="#1f78b4"/>
<rect x="790.46" y="1734.7" width="5.14" height="9.2" fill="#1f78b4"/>
<rect x="100.5" y="1745.7" width="695.1" height="9" fill="#e5e5e5"/>
<rect x="115.55" y="1745.7" width="1.55" height="9" fill="#a6cee3"/>
<rect x="120.97" y="1745.7" width="75.87" height="9" fill="#1f78b4"/>
<rect x="200.72" y="1745.7" width="1.55" height="9" fill="#a6cee3"/>
<rect x="229.36" y="1745.7" width="20.75" height="9" fill="#1f78b4"/>
<rect x="251.04" y="1745.7" width="113.97" height="9" fill="#1f78b4"/>
<rect x="387.31" y="1745.7" width="28.49" height="9" fill="#1f78b4"/>
<rect x="501.89" y="1745.7" width="27.87" height="9" fill="#1f78b4"/>
<rect x="683.68" y="1745.7" width="26.32" height="9" fill="#1f78b4"/>
<rect x="683.62" y="1745.7" width="90.74" height="9" fill="#1f78b4"/>
<rect x="778.07" y="1745.7" width="1.3" height="9" fill="#a6cee3"/>
<rect x="780.67" y="1745.7" width="1.3" height="9" fill="#a6cee3"/>
<rect x="783.97" y="1745.7" width="1.3" height="9" fill="#a6cee3"/>
<rect x="787.97" y="1745.7" width="1.3" height="9" fill="#a6cee3"/>
<rect x="790.57" y="1745.7" width="1.3" height="9" fill="#a6cee3"/>
<rect x="793.87" y="1745.7" width="1.3" height="9" fill="#a6cee3"/>
<rect x="99" y="1727.2" width="697.6" height="5" rx="2.5" fill="#7d7d7d" stroke="#000" stroke-width="2.5"/>
<text x="79" y="1750.7" font-size="28.8" text-anchor="end" fill="#000" font-weight="normal" stroke="#000" stroke-width="0.4" >chr10</text>
<polygon points="218.5,1693.7 234.1,1693.7 226.3,1704.7" fill="#aaaaaa"/>
<polygon points="218.5,1766.7 234.1,1766.7 226.3,1755.7" fill="#aaaaaa"/>
<rect x="100.5" y="1797" width="652.3" height="9.2" fill="#e5e5e5"/>
<rect x="100.84" y="1797" width="6.19" height="9.2" fill="#e3191c"/>
<rect x="110.9" y="1797" width="1.55" height="9.2" fill="#f9a0a0"/>
<rect x="161.85" y="1797" width="5.57" height="9.2" fill="#e3191c"/>
<rect x="175.94" y="1797" width="1.55" height="9.2" fill="#f9a0a0"/>
<rect x="200.72" y="1797" width="1.55" height="9.2" fill="#f9a0a0"/>
<rect x="215.43" y="1797" width="7.74" height="9.2" fill="#e3191c"/>
<rect x="244.85" y="1797" width="6.81" height="9.2" fill="#e3191c"/>
<rect x="267.3" y="1797" width="1.55" height="9.2" fill="#f9a0a0"/>
<rect x="272.72" y="1797" width="7.12" height="9.2" fill="#e3191c"/>
<rect x="285.11" y="1797" width="5.57" height="9.2" fill="#e3191c"/>
<rect x="303.07" y="1797" width="8.36" height="9.2" fill="#e3191c"/>
<rect x="318.4" y="1797" width="1.55" height="9.2" fill="#f9a0a0"/>
<rect x="322.89" y="1797" width="6.19" height="9.2" fill="#e3191c"/>
<rect x="351.69" y="1797" width="13.32" height="9.2" fill="#e3191c"/>
<rect x="377.24" y="1797" width="1.55" height="9.2" fill="#f9a0a0"/>
<rect x="395.98" y="1797" width="19.2" height="9.2" fill="#e3191c"/>
<rect x="425.09" y="1797" width="9.6" height="9.2" fill="#e3191c"/>
<rect x="450.95" y="1797" width="1.55" height="9.2" fill="#f9a0a0"/>
<rect x="458.54" y="1797" width="17.03" height="9.2" fill="#e3191c"/>
<rect x="479.59" y="1797" width="33.76" height="9.2" fill="#e3191c"/>
<rect x="518.31" y="1797" width="98.17" height="9.2" fill="#e3191c"/>
<rect x="625" y="1797" width="1.55" height="9.2" fill="#f9a0a0"/>
<rect x="634.44" y="1797" width="20.13" height="9.2" fill="#e3191c"/>
<rect x="687.09" y="1797" width="6.19" height="9.2" fill="#e3191c"/>
<rect x="707.06" y="1797" width="1.55" height="9.2" fill="#f9a0a0"/>
<rect x="600" y="1797" width="17.03" height="9.2" fill="#e3191c"/>
<rect x="624" y="1797" width="1.55" height="9.2" fill="#f9a0a0"/>
<rect x="634.07" y="1797" width="21.06" height="9.2" fill="#e3191c"/>
<rect x="686.71" y="1797" width="6.81" height="9.2" fill="#e3191c"/>
<rect x="708.39" y="1797" width="6.19" height="9.2" fill="#e3191c"/>
<rect x="721.55" y="1797" width="1.55" height="9.2" fill="#f9a0a0"/>
<rect x="729.45" y="1797" width="9.91" height="9.2" fill="#e3191c"/>
<rect x="747.88" y="1797" width="1.55" height="9.2" fill="#f9a0a0"/>
<rect x="100.5" y="1808.5" width="652.3" height="9.2" fill="#e5e5e5"/>
<rect x="109.36" y="1808.5" width="1.55" height="9.2" fill="#f9a0a0"/>
<rect x="114.78" y="1808.5" width="45.83" height="9.2" fill="#e3191c"/>
<rect x="168.35" y="1808.5" width="5.88" height="9.2" fill="#e3191c"/>
<rect x="178.26" y="1808.5" width="20.13" height="9.2" fill="#e3191c"/>
<rect x="203.97" y="1808.5" width="9.29" height="9.2" fill="#e3191c"/>
<rect x="224.72" y="1808.5" width="18.58" height="9.2" fill="#e3191c"/>
<rect x="253.21" y="1808.5" width="8.05" height="9.2" fill="#e3191c"/>
<rect x="281.24" y="1808.5" width="1.55" height="9.2" fill="#f9a0a0"/>
<rect x="295.33" y="1808.5" width="6.19" height="9.2" fill="#e3191c"/>
<rect x="312.21" y="1808.5" width="1.55" height="9.2" fill="#f9a0a0"/>
<rect x="330.01" y="1808.5" width="20.13" height="9.2" fill="#e3191c"/>
<rect x="366.56" y="1808.5" width="9.91" height="9.2" fill="#e3191c"/>
<rect x="380.49" y="1808.5" width="13.94" height="9.2" fill="#e3191c"/>
<rect x="416.73" y="1808.5" width="6.81" height="9.2" fill="#e3191c"/>
<rect x="436.24" y="1808.5" width="8.36" height="9.2" fill="#e3191c"/>
<rect x="454.66" y="1808.5" width="1.55" height="9.2" fill="#f9a0a0"/>
<rect x="476.34" y="1808.5" width="1.55" height="9.2" fill="#f9a0a0"/>
<rect x="515.05" y="1808.5" width="1.55" height="9.2" fill="#f9a0a0"/>
<rect x="618.03" y="1808.5" width="5.26" height="9.2" fill="#e3191c"/>
<rect x="628.25" y="1808.5" width="5.26" height="9.2" fill="#e3191c"/>
<rect x="656.12" y="1808.5" width="30.04" height="9.2" fill="#e3191c"/>
<rect x="694.83" y="1808.5" width="9.29" height="9.2" fill="#e3191c"/>
<rect x="617.03" y="1808.5" width="6.19" height="9.2" fill="#e3191c"/>
<rect x="627.25" y="1808.5" width="6.19" height="9.2" fill="#e3191c"/>
<rect x="655.74" y="1808.5" width="30.97" height="9.2" fill="#e3191c"/>
<rect x="694.46" y="1808.5" width="10.84" height="9.2" fill="#e3191c"/>
<rect x="714.59" y="1808.5" width="5.57" height="9.2" fill="#e3191c"/>
<rect x="723.26" y="1808.5" width="5.26" height="9.2" fill="#e3191c"/>
<rect x="744.78" y="1808.5" width="1.55" height="9.2" fill="#f9a0a0"/>
<rect x="100.5" y="1826.5" width="652.3" height="9.2" fill="#e5e5e5"/>
<rect x="100.84" y="1826.5" width="6.19" height="9.2" fill="#1f78b4"/>
<rect x="193.13" y="1826.5" width="18.58" height="9.2" fill="#1f78b4"/>
<rect x="272.1" y="1826.5" width="26.94" height="9.2" fill="#1f78b4"/>
<rect x="727.59" y="1826.5" width="25.21" height="9.2" fill="#1f78b4"/>
<rect x="100.5" y="1837.5" width="652.3" height="9" fill="#e5e5e5"/>
<rect x="102.39" y="1837.5" width="1.3" height="9" fill="#a6cee3"/>
<rect x="104.99" y="1837.5" width="1.3" height="9" fill="#a6cee3"/>
<rect x="111.06" y="1837.5" width="81.14" height="9" fill="#1f78b4"/>
<rect x="212.33" y="1837.5" width="58.84" height="9" fill="#1f78b4"/>
<rect x="299.66" y="1837.5" width="410.34" height="9" fill="#1f78b4"/>
<rect x="600" y="1837.5" width="126.97" height="9" fill="#1f78b4"/>
<rect x="99" y="1819" width="654.8" height="5" rx="2.5" fill="#7d7d7d" stroke="#000" stroke-width="2.5"/>
<text x="79" y="1842.5" font-size="28.8" text-anchor="end" fill="#000" font-weight="normal" stroke="#000" stroke-width="0.4" >chr11</text>
<polygon points="261.8,1785.5 277.4,1785.5 269.6,1796.5" fill="#aaaaaa"/>
<polygon points="261.8,1858.5 277.4,1858.5 269.6,1847.5" fill="#aaaaaa"/>
<rect x="100.5" y="1888.8" width="627.5" height="9.2" fill="#e5e5e5"/>
<rect x="100.84" y="1888.8" width="24.16" height="9.2" fill="#e3191c"/>
<rect x="155.66" y="1888.8" width="4.96" height="9.2" fill="#e3191c"/>
<rect x="237.1" y="1888.8" width="15.48" height="9.2" fill="#e3191c"/>
<rect x="282.63" y="1888.8" width="11.77" height="9.2" fill="#e3191c"/>
<rect x="297.49" y="1888.8" width="3.72" height="9.2" fill="#e3191c"/>
<rect x="303.69" y="1888.8" width="8.67" height="9.2" fill="#e3191c"/>
<rect x="319.17" y="1888.8" width="19.2" height="9.2" fill="#e3191c"/>
<rect x="341.63" y="1888.8" width="1.55" height="9.2" fill="#f9a0a0"/>
<rect x="395.82" y="1888.8" width="1.55" height="9.2" fill="#f9a0a0"/>
<rect x="409.6" y="1888.8" width="117.99" height="9.2" fill="#e3191c"/>
<rect x="541.53" y="1888.8" width="10.84" height="9.2" fill="#e3191c"/>
<rect x="575.6" y="1888.8" width="51.1" height="9.2" fill="#e3191c"/>
<rect x="656.89" y="1888.8" width="1.55" height="9.2" fill="#f9a0a0"/>
<rect x="669.75" y="1888.8" width="17.34" height="9.2" fill="#e3191c"/>
<rect x="600" y="1888.8" width="27.25" height="9.2" fill="#e3191c"/>
<rect x="656.52" y="1888.8" width="1.55" height="9.2" fill="#f9a0a0"/>
<rect x="670.61" y="1888.8" width="16.72" height="9.2" fill="#e3191c"/>
<rect x="723.26" y="1888.8" width="4.74" height="9.2" fill="#e3191c"/>
<rect x="100.5" y="1900.3" width="627.5" height="9.2" fill="#e5e5e5"/>
<rect x="126.54" y="1900.3" width="27.56" height="9.2" fill="#e3191c"/>
<rect x="161.85" y="1900.3" width="74.33" height="9.2" fill="#e3191c"/>
<rect x="254.14" y="1900.3" width="27.25" height="9.2" fill="#e3191c"/>
<rect x="293.62" y="1900.3" width="1.55" height="9.2" fill="#f9a0a0"/>
<rect x="302.91" y="1900.3" width="1.55" height="9.2" fill="#f9a0a0"/>
<rect x="314.37" y="1900.3" width="1.55" height="9.2" fill="#f9a0a0"/>
<rect x="344.57" y="1900.3" width="49.55" height="9.2" fill="#e3191c"/>
<rect x="399.07" y="1900.3" width="9.29" height="9.2" fill="#e3191c"/>
<rect x="528.84" y="1900.3" width="11.15" height="9.2" fill="#e3191c"/>
<rect x="552.99" y="1900.3" width="21.68" height="9.2" fill="#e3191c"/>
<rect x="627.94" y="1900.3" width="27.25" height="9.2" fill="#e3191c"/>
<rect x="659.84" y="1900.3" width="8.67" height="9.2" fill="#e3191c"/>
<rect x="687.71" y="1900.3" width="22.3" height="9.2" fill="#e3191c"/>
<rect x="627.87" y="1900.3" width="27.87" height="9.2" fill="#e3191c"/>
<rect x="659.77" y="1900.3" width="9.91" height="9.2" fill="#e3191c"/>
<rect x="688.26" y="1900.3" width="34.69" height="9.2" fill="#e3191c"/>
<rect x="100.5" y="1918.3" width="627.5" height="9.2" fill="#e5e5e5"/>
<rect x="106.26" y="1918.3" width="1.55" height="9.2" fill="#a6cee3"/>
<rect x="123.29" y="1918.3" width="1.55" height="9.2" fill="#a6cee3"/>
<rect x="140.48" y="1918.3" width="2.79" height="9.2" fill="#1f78b4"/>
<rect x="175.94" y="1918.3" width="1.55" height="9.2" fill="#a6cee3"/>
<rect x="182.91" y="1918.3" width="1.3" height="9.2" fill="#a6cee3"/>
<rect x="185.51" y="1918.3" width="1.3" height="9.2" fill="#a6cee3"/>
<rect x="195.3" y="1918.3" width="9.91" height="9.2" fill="#1f78b4"/>
<rect x="253.36" y="1918.3" width="1.55" height="9.2" fill="#a6cee3"/>
<rect x="261.11" y="1918.3" width="1.55" height="9.2" fill="#a6cee3"/>
<rect x="283.56" y="1918.3" width="7.74" height="9.2" fill="#1f78b4"/>
<rect x="295.02" y="1918.3" width="5.57" height="9.2" fill="#1f78b4"/>
<rect x="303.69" y="1918.3" width="11.77" height="9.2" fill="#1f78b4"/>
<rect x="318.55" y="1918.3" width="20.75" height="9.2" fill="#1f78b4"/>
<rect x="340.23" y="1918.3" width="22.92" height="9.2" fill="#1f78b4"/>
<rect x="396.6" y="1918.3" width="5.57" height="9.2" fill="#1f78b4"/>
<rect x="465.66" y="1918.3" width="34.69" height="9.2" fill="#1f78b4"/>
<rect x="660.46" y="1918.3" width="49.55" height="9.2" fill="#1f78b4"/>
<rect x="659.46" y="1918.3" width="65.04" height="9.2" fill="#1f78b4"/>
<rect x="100.5" y="1929.3" width="627.5" height="9" fill="#e5e5e5"/>
<rect x="100.84" y="1929.3" width="4.03" height="9" fill="#1f78b4"/>
<rect x="109.51" y="1929.3" width="12.39" height="9" fill="#1f78b4"/>
<rect x="126.54" y="1929.3" width="12.08" height="9" fill="#1f78b4"/>
<rect x="146.67" y="1929.3" width="6.19" height="9" fill="#1f78b4"/>
<rect x="155.96" y="1929.3" width="17.03" height="9" fill="#1f78b4"/>
<rect x="178.26" y="1929.3" width="1.3" height="9" fill="#a6cee3"/>
<rect x="180.86" y="1929.3" width="1.3" height="9" fill="#a6cee3"/>
<rect x="184.16" y="1929.3" width="1.3" height="9" fill="#a6cee3"/>
<rect x="189.72" y="1929.3" width="4.96" height="9" fill="#1f78b4"/>
<rect x="206.14" y="1929.3" width="46.45" height="9" fill="#1f78b4"/>
<rect x="258.01" y="1929.3" width="1.55" height="9" fill="#a6cee3"/>
<rect x="263.43" y="1929.3" width="18.58" height="9" fill="#1f78b4"/>
<rect x="290.53" y="1929.3" width="1.55" height="9" fill="#a6cee3"/>
<rect x="364.08" y="1929.3" width="28.8" height="9" fill="#1f78b4"/>
<rect x="403.41" y="1929.3" width="61.32" height="9" fill="#1f78b4"/>
<rect x="501.27" y="1929.3" width="153.92" height="9" fill="#1f78b4"/>
<rect x="600" y="1929.3" width="55.74" height="9" fill="#1f78b4"/>
<rect x="726.2" y="1929.3" width="1.55" height="9" fill="#a6cee3"/>
<rect x="99" y="1910.8" width="630" height="5" rx="2.5" fill="#7d7d7d" stroke="#000" stroke-width="2.5"/>
<text x="79" y="1934.3" font-size="28.8" text-anchor="end" fill="#000" font-weight="normal" stroke="#000" stroke-width="0.4" >chr12</text>
<polygon points="246.3,1877.3 261.9,1877.3 254.1,1888.3" fill="#aaaaaa"/>
<polygon points="246.3,1950.3 261.9,1950.3 254.1,1939.3" fill="#aaaaaa"/>
<rect x="1362" y="879" width="597" height="9.2" fill="#e5e5e5"/>
<rect x="1362.08" y="879" width="9.16" height="9.2" fill="#e3191c"/>
<rect x="1372.33" y="879" width="2.18" height="9.2" fill="#f9a0a0"/>
<rect x="1375.6" y="879" width="16.14" height="9.2" fill="#e3191c"/>
<rect x="1393.92" y="879" width="71.96" height="9.2" fill="#e3191c"/>
<rect x="1473.29" y="879" width="50.15" height="9.2" fill="#e3191c"/>
<rect x="1559.42" y="879" width="2.18" height="9.2" fill="#f9a0a0"/>
<rect x="1573.81" y="879" width="2.18" height="9.2" fill="#f9a0a0"/>
<rect x="1577.95" y="879" width="208.46" height="9.2" fill="#e3191c"/>
<rect x="1803.86" y="879" width="117.75" height="9.2" fill="#e3191c"/>
<rect x="1951.26" y="879" width="7.41" height="9.2" fill="#e3191c"/>
<rect x="1362" y="890.5" width="597" height="9.2" fill="#e5e5e5"/>
<rect x="1371.02" y="890.5" width="2.18" height="9.2" fill="#f9a0a0"/>
<rect x="1466.75" y="890.5" width="5.67" height="9.2" fill="#e3191c"/>
<rect x="1524.75" y="890.5" width="32.71" height="9.2" fill="#e3191c"/>
<rect x="1563.13" y="890.5" width="13.08" height="9.2" fill="#e3191c"/>
<rect x="1786.42" y="890.5" width="15.26" height="9.2" fill="#e3191c"/>
<rect x="1921.61" y="890.5" width="29.22" height="9.2" fill="#e3191c"/>
<rect x="1362" y="908.5" width="597" height="9.2" fill="#e5e5e5"/>
<rect x="1362.08" y="908.5" width="103.79" height="9.2" fill="#1f78b4"/>
<rect x="1473.29" y="908.5" width="88.53" height="9.2" fill="#1f78b4"/>
<rect x="1567.27" y="908.5" width="2.18" height="9.2" fill="#a6cee3"/>
<rect x="1572.72" y="908.5" width="111.21" height="9.2" fill="#1f78b4"/>
<rect x="1794.27" y="908.5" width="24.86" height="9.2" fill="#1f78b4"/>
<rect x="1901.11" y="908.5" width="35.76" height="9.2" fill="#1f78b4"/>
<rect x="1362" y="919.5" width="597" height="9" fill="#e5e5e5"/>
<rect x="1466.75" y="919.5" width="5.67" height="9" fill="#1f78b4"/>
<rect x="1567.49" y="919.5" width="1.3" height="9" fill="#a6cee3"/>
<rect x="1570.09" y="919.5" width="1.3" height="9" fill="#a6cee3"/>
<rect x="1684.8" y="919.5" width="108.16" height="9" fill="#1f78b4"/>
<rect x="1820.43" y="919.5" width="80.24" height="9" fill="#1f78b4"/>
<rect x="1938.18" y="919.5" width="20.82" height="9" fill="#1f78b4"/>
<rect x="1360.5" y="901" width="599.5" height="5" rx="2.5" fill="#7d7d7d" stroke="#000" stroke-width="2.5"/>
<text x="1336" y="924.5" font-size="28.8" text-anchor="end" fill="#000" font-weight="normal" stroke="#000" stroke-width="0.4" >chr13</text>
<polygon points="1570.2,867.5 1585.8,867.5 1578,878.5" fill="#aaaaaa"/>
<polygon points="1571.5,940.5 1587.1,940.5 1579.3,929.5" fill="#aaaaaa"/>
<polygon points="1933.77,938.85 1947.03,938.85 1940.4,929.5" fill="#000"/>
<rect x="1362" y="970.8" width="573.8" height="9.2" fill="#e5e5e5"/>
<rect x="1363.17" y="970.8" width="2.18" height="9.2" fill="#f9a0a0"/>
<rect x="1367.75" y="970.8" width="6.54" height="9.2" fill="#e3191c"/>
<rect x="1380.83" y="970.8" width="18.32" height="9.2" fill="#e3191c"/>
<rect x="1407" y="970.8" width="16.14" height="9.2" fill="#e3191c"/>
<rect x="1430.99" y="970.8" width="5.67" height="9.2" fill="#e3191c"/>
<rect x="1440.58" y="970.8" width="8.72" height="9.2" fill="#e3191c"/>
<rect x="1454.75" y="970.8" width="2.18" height="9.2" fill="#f9a0a0"/>
<rect x="1465.66" y="970.8" width="2.18" height="9.2" fill="#f9a0a0"/>
<rect x="1491.82" y="970.8" width="2.18" height="9.2" fill="#f9a0a0"/>
<rect x="1517.12" y="970.8" width="2.18" height="9.2" fill="#f9a0a0"/>
<rect x="1550.92" y="970.8" width="4.36" height="9.2" fill="#e3191c"/>
<rect x="1560.51" y="970.8" width="12.21" height="9.2" fill="#e3191c"/>
<rect x="1575.34" y="970.8" width="59.75" height="9.2" fill="#e3191c"/>
<rect x="1644.68" y="970.8" width="8.72" height="9.2" fill="#e3191c"/>
<rect x="1680.44" y="970.8" width="18.75" height="9.2" fill="#e3191c"/>
<rect x="1704.86" y="970.8" width="23.55" height="9.2" fill="#e3191c"/>
<rect x="1731.47" y="970.8" width="11.34" height="9.2" fill="#e3191c"/>
<rect x="1761.12" y="970.8" width="34.02" height="9.2" fill="#e3191c"/>
<rect x="1816.94" y="970.8" width="15.26" height="9.2" fill="#e3191c"/>
<rect x="1854.88" y="970.8" width="19.62" height="9.2" fill="#e3191c"/>
<rect x="1911.58" y="970.8" width="15.26" height="9.2" fill="#e3191c"/>
<rect x="1362" y="982.3" width="573.8" height="9.2" fill="#e5e5e5"/>
<rect x="1374.29" y="982.3" width="6.54" height="9.2" fill="#e3191c"/>
<rect x="1400.46" y="982.3" width="5.67" height="9.2" fill="#e3191c"/>
<rect x="1426.62" y="982.3" width="4.36" height="9.2" fill="#e3191c"/>
<rect x="1435.13" y="982.3" width="2.18" height="9.2" fill="#f9a0a0"/>
<rect x="1459.33" y="982.3" width="1.3" height="9.2" fill="#f9a0a0"/>
<rect x="1461.93" y="982.3" width="1.3" height="9.2" fill="#f9a0a0"/>
<rect x="1465.23" y="982.3" width="1.3" height="9.2" fill="#f9a0a0"/>
<rect x="1468.05" y="982.3" width="23.99" height="9.2" fill="#e3191c"/>
<rect x="1492.91" y="982.3" width="23.11" height="9.2" fill="#e3191c"/>
<rect x="1529.11" y="982.3" width="15.26" height="9.2" fill="#e3191c"/>
<rect x="1635.96" y="982.3" width="7.85" height="9.2" fill="#e3191c"/>
<rect x="1654.27" y="982.3" width="25.29" height="9.2" fill="#e3191c"/>
<rect x="1699.19" y="982.3" width="5.67" height="9.2" fill="#e3191c"/>
<rect x="1744.98" y="982.3" width="15.26" height="9.2" fill="#e3191c"/>
<rect x="1797.32" y="982.3" width="18.75" height="9.2" fill="#e3191c"/>
<rect x="1833.08" y="982.3" width="15.26" height="9.2" fill="#e3191c"/>
<rect x="1875.82" y="982.3" width="34.89" height="9.2" fill="#e3191c"/>
<rect x="1362" y="1000.3" width="573.8" height="9.2" fill="#e5e5e5"/>
<rect x="1364.26" y="1000.3" width="1.3" height="9.2" fill="#a6cee3"/>
<rect x="1366.86" y="1000.3" width="1.3" height="9.2" fill="#a6cee3"/>
<rect x="1370.16" y="1000.3" width="1.3" height="9.2" fill="#a6cee3"/>
<rect x="1435.35" y="1000.3" width="10.9" height="9.2" fill="#1f78b4"/>
<rect x="1460.64" y="1000.3" width="9.59" height="9.2" fill="#1f78b4"/>
<rect x="1475.47" y="1000.3" width="52.77" height="9.2" fill="#1f78b4"/>
<rect x="1568.36" y="1000.3" width="151.33" height="9.2" fill="#1f78b4"/>
<rect x="1737.13" y="1000.3" width="34.02" height="9.2" fill="#1f78b4"/>
<rect x="1859.68" y="1000.3" width="24.86" height="9.2" fill="#1f78b4"/>
<rect x="1885.85" y="1000.3" width="19.19" height="9.2" fill="#1f78b4"/>
<rect x="1907.44" y="1000.3" width="2.18" height="9.2" fill="#a6cee3"/>
<rect x="1362" y="1011.3" width="573.8" height="9" fill="#e5e5e5"/>
<rect x="1373.42" y="1011.3" width="6.11" height="9" fill="#1f78b4"/>
<rect x="1383.45" y="1011.3" width="31.4" height="9" fill="#1f78b4"/>
<rect x="1416.59" y="1011.3" width="17.88" height="9" fill="#1f78b4"/>
<rect x="1447.12" y="1011.3" width="11.34" height="9" fill="#1f78b4"/>
<rect x="1470.45" y="1011.3" width="2.18" height="9" fill="#a6cee3"/>
<rect x="1529.11" y="1011.3" width="37.07" height="9" fill="#1f78b4"/>
<rect x="1721" y="1011.3" width="15.26" height="9" fill="#1f78b4"/>
<rect x="1772.46" y="1011.3" width="30.53" height="9" fill="#1f78b4"/>
<rect x="1806.04" y="1011.3" width="9.59" height="9" fill="#1f78b4"/>
<rect x="1816.94" y="1011.3" width="41.43" height="9" fill="#1f78b4"/>
<rect x="1911.58" y="1011.3" width="5.67" height="9" fill="#1f78b4"/>
<rect x="1919.43" y="1011.3" width="16.14" height="9" fill="#1f78b4"/>
<rect x="1360.5" y="992.8" width="576.3" height="5" rx="2.5" fill="#7d7d7d" stroke="#000" stroke-width="2.5"/>
<text x="1336" y="1016.3" font-size="28.8" text-anchor="end" fill="#000" font-weight="normal" stroke="#000" stroke-width="0.4" >chr14</text>
<polygon points="1356.5,959.3 1372.1,959.3 1364.3,970.3" fill="#aaaaaa"/>
<polygon points="1365.6,1032.3 1381.2,1032.3 1373.4,1021.3" fill="#aaaaaa"/>
<polygon points="1920.17,960.95 1933.43,960.95 1926.8,970.3" fill="#000"/>
<polygon points="1929.37,1030.65 1942.63,1030.65 1936,1021.3" fill="#000"/>
<rect x="1362" y="1062.6" width="501" height="9.2" fill="#e5e5e5"/>
<rect x="1363.17" y="1062.6" width="2.18" height="9.2" fill="#f9a0a0"/>
<rect x="1369.93" y="1062.6" width="22.68" height="9.2" fill="#e3191c"/>
<rect x="1495.53" y="1062.6" width="34.02" height="9.2" fill="#e3191c"/>
<rect x="1602.38" y="1062.6" width="90.27" height="9.2" fill="#e3191c"/>
<rect x="1716.64" y="1062.6" width="34.02" height="9.2" fill="#e3191c"/>
<rect x="1855.1" y="1062.6" width="2.18" height="9.2" fill="#f9a0a0"/>
<rect x="1362" y="1074.1" width="501" height="9.2" fill="#e5e5e5"/>
<rect x="1363.17" y="1074.1" width="2.18" height="9.2" fill="#f9a0a0"/>
<rect x="1394.79" y="1074.1" width="99.43" height="9.2" fill="#e3191c"/>
<rect x="1531.29" y="1074.1" width="69.78" height="9.2" fill="#e3191c"/>
<rect x="1693.96" y="1074.1" width="21.37" height="9.2" fill="#e3191c"/>
<rect x="1752.4" y="1074.1" width="102.92" height="9.2" fill="#e3191c"/>
<rect x="1857.5" y="1074.1" width="5.23" height="9.2" fill="#e3191c"/>
<rect x="1362" y="1092.1" width="501" height="9.2" fill="#e5e5e5"/>
<rect x="1371.24" y="1092.1" width="16.14" height="9.2" fill="#1f78b4"/>
<rect x="1393.92" y="1092.1" width="109.9" height="9.2" fill="#1f78b4"/>
<rect x="1598.89" y="1092.1" width="66.29" height="9.2" fill="#1f78b4"/>
<rect x="1716.64" y="1092.1" width="7.41" height="9.2" fill="#1f78b4"/>
<rect x="1734.08" y="1092.1" width="70.65" height="9.2" fill="#1f78b4"/>
<rect x="1840.93" y="1092.1" width="21.81" height="9.2" fill="#1f78b4"/>
<rect x="1362" y="1103.1" width="501" height="9" fill="#e5e5e5"/>
<rect x="1363.39" y="1103.1" width="6.54" height="9" fill="#1f78b4"/>
<rect x="1505.12" y="1103.1" width="92.46" height="9" fill="#1f78b4"/>
<rect x="1666.48" y="1103.1" width="48.84" height="9" fill="#1f78b4"/>
<rect x="1725.36" y="1103.1" width="7.41" height="9" fill="#1f78b4"/>
<rect x="1806.04" y="1103.1" width="33.58" height="9" fill="#1f78b4"/>
<rect x="1360.5" y="1084.6" width="503.5" height="5" rx="2.5" fill="#7d7d7d" stroke="#000" stroke-width="2.5"/>
<text x="1336" y="1108.1" font-size="28.8" text-anchor="end" fill="#000" font-weight="normal" stroke="#000" stroke-width="0.4" >chr15</text>
<polygon points="1354.7,1051.1 1370.3,1051.1 1362.5,1062.1" fill="#aaaaaa"/>
<rect x="1362" y="1154.4" width="498" height="9.2" fill="#e5e5e5"/>
<rect x="1364.7" y="1154.4" width="14.83" height="9.2" fill="#e3191c"/>
<rect x="1411.36" y="1154.4" width="124.29" height="9.2" fill="#e3191c"/>
<rect x="1605.43" y="1154.4" width="150.46" height="9.2" fill="#e3191c"/>
<rect x="1766.79" y="1154.4" width="18.75" height="9.2" fill="#e3191c"/>
<rect x="1802.99" y="1154.4" width="7.41" height="9.2" fill="#e3191c"/>
<rect x="1362" y="1165.9" width="498" height="9.2" fill="#e5e5e5"/>
<rect x="1379.96" y="1165.9" width="20.5" height="9.2" fill="#e3191c"/>
<rect x="1402.64" y="1165.9" width="1.3" height="9.2" fill="#f9a0a0"/>
<rect x="1405.24" y="1165.9" width="1.3" height="9.2" fill="#f9a0a0"/>
<rect x="1408.54" y="1165.9" width="1.3" height="9.2" fill="#f9a0a0"/>
<rect x="1536.96" y="1165.9" width="67.16" height="9.2" fill="#e3191c"/>
<rect x="1755.89" y="1165.9" width="10.03" height="9.2" fill="#e3191c"/>
<rect x="1786.42" y="1165.9" width="13.96" height="9.2" fill="#e3191c"/>
<rect x="1811.71" y="1165.9" width="47.54" height="9.2" fill="#e3191c"/>
<rect x="1362" y="1183.9" width="498" height="9.2" fill="#e5e5e5"/>
<rect x="1379.96" y="1183.9" width="15.26" height="9.2" fill="#1f78b4"/>
<rect x="1407.87" y="1183.9" width="87.22" height="9.2" fill="#1f78b4"/>
<rect x="1620.48" y="1183.9" width="2.18" height="9.2" fill="#a6cee3"/>
<rect x="1641.19" y="1183.9" width="20.93" height="9.2" fill="#1f78b4"/>
<rect x="1771.15" y="1183.9" width="2.18" height="9.2" fill="#1f78b4"/>
<rect x="1806.04" y="1183.9" width="28.35" height="9.2" fill="#1f78b4"/>
<rect x="1362" y="1194.9" width="498" height="9" fill="#e5e5e5"/>
<rect x="1364.26" y="1194.9" width="15.26" height="9" fill="#1f78b4"/>
<rect x="1397.41" y="1194.9" width="3.92" height="9" fill="#1f78b4"/>
<rect x="1497.27" y="1194.9" width="122.11" height="9" fill="#1f78b4"/>
<rect x="1625.05" y="1194.9" width="15.26" height="9" fill="#1f78b4"/>
<rect x="1664.3" y="1194.9" width="104.67" height="9" fill="#1f78b4"/>
<rect x="1775.51" y="1194.9" width="29.22" height="9" fill="#1f78b4"/>
<rect x="1835.26" y="1194.9" width="23.99" height="9" fill="#1f78b4"/>
<rect x="1360.5" y="1176.4" width="500.5" height="5" rx="2.5" fill="#7d7d7d" stroke="#000" stroke-width="2.5"/>
<text x="1336" y="1199.9" font-size="28.8" text-anchor="end" fill="#000" font-weight="normal" stroke="#000" stroke-width="0.4" >chr16</text>
<polygon points="1355.87,1144.55 1369.13,1144.55 1362.5,1153.9" fill="#000"/>
<polygon points="1355.87,1214.25 1369.13,1214.25 1362.5,1204.9" fill="#000"/>
<polygon points="1394.8,1142.9 1410.4,1142.9 1402.6,1153.9" fill="#aaaaaa"/>
<polygon points="1394.8,1215.9 1410.4,1215.9 1402.6,1204.9" fill="#aaaaaa"/>
<rect x="1362" y="1246.2" width="378.6" height="9.2" fill="#e5e5e5"/>
<rect x="1364.99" y="1246.2" width="1.3" height="9.2" fill="#f9a0a0"/>
<rect x="1367.59" y="1246.2" width="1.3" height="9.2" fill="#f9a0a0"/>
<rect x="1370.89" y="1246.2" width="1.3" height="9.2" fill="#f9a0a0"/>
<rect x="1377.98" y="1246.2" width="70.93" height="9.2" fill="#e3191c"/>
<rect x="1487.27" y="1246.2" width="16.58" height="9.2" fill="#e3191c"/>
<rect x="1514.34" y="1246.2" width="1.2" height="9.2" fill="#f9a0a0"/>
<rect x="1586.77" y="1246.2" width="41.56" height="9.2" fill="#e3191c"/>
<rect x="1710.24" y="1246.2" width="22.38" height="9.2" fill="#e3191c"/>
<rect x="1362" y="1257.7" width="378.6" height="9.2" fill="#e5e5e5"/>
<rect x="1362.99" y="1257.7" width="13.59" height="9.2" fill="#e3191c"/>
<rect x="1449.91" y="1257.7" width="35.96" height="9.2" fill="#e3191c"/>
<rect x="1504.45" y="1257.7" width="10.39" height="9.2" fill="#e3191c"/>
<rect x="1516.44" y="1257.7" width="68.73" height="9.2" fill="#e3191c"/>
<rect x="1629.73" y="1257.7" width="79.32" height="9.2" fill="#e3191c"/>
<rect x="1734.12" y="1257.7" width="1.2" height="9.2" fill="#f9a0a0"/>
<rect x="1362" y="1275.7" width="378.6" height="9.2" fill="#e5e5e5"/>
<rect x="1363.49" y="1275.7" width="1.2" height="9.2" fill="#a6cee3"/>
<rect x="1368.99" y="1275.7" width="90.91" height="9.2" fill="#1f78b4"/>
<rect x="1460.89" y="1275.7" width="128.87" height="9.2" fill="#1f78b4"/>
<rect x="1691.66" y="1275.7" width="10.99" height="9.2" fill="#1f78b4"/>
<rect x="1705.65" y="1275.7" width="34.95" height="9.2" fill="#1f78b4"/>
<rect x="1362" y="1286.7" width="378.6" height="9" fill="#e5e5e5"/>
<rect x="1364.49" y="1286.7" width="1.2" height="9" fill="#a6cee3"/>
<rect x="1591.16" y="1286.7" width="99.5" height="9" fill="#1f78b4"/>
<rect x="1703.15" y="1286.7" width="1.2" height="9" fill="#a6cee3"/>
<rect x="1360.5" y="1268.2" width="381.1" height="5" rx="2.5" fill="#7d7d7d" stroke="#000" stroke-width="2.5"/>
<text x="1336" y="1291.7" font-size="28.8" text-anchor="end" fill="#000" font-weight="normal" stroke="#000" stroke-width="0.4" >chr17</text>
<rect x="1362" y="1338" width="237.7" height="9.2" fill="#e5e5e5"/>
<rect x="1363.49" y="1338" width="1.2" height="9.2" fill="#f9a0a0"/>
<rect x="1369.49" y="1338" width="1.2" height="9.2" fill="#f9a0a0"/>
<rect x="1380.97" y="1338" width="1.3" height="9.2" fill="#f9a0a0"/>
<rect x="1383.57" y="1338" width="1.3" height="9.2" fill="#f9a0a0"/>
<rect x="1389.47" y="1338" width="1.2" height="9.2" fill="#f9a0a0"/>
<rect x="1474.88" y="1338" width="11.99" height="9.2" fill="#e3191c"/>
<rect x="1497.26" y="1338" width="5.59" height="9.2" fill="#e3191c"/>
<rect x="1510.44" y="1338" width="15.98" height="9.2" fill="#e3191c"/>
<rect x="1537.82" y="1338" width="21.98" height="9.2" fill="#e3191c"/>
<rect x="1562.29" y="1338" width="1.2" height="9.2" fill="#f9a0a0"/>
<rect x="1362" y="1349.5" width="237.7" height="9.2" fill="#e5e5e5"/>
<rect x="1362.99" y="1349.5" width="5.99" height="9.2" fill="#e3191c"/>
<rect x="1373.98" y="1349.5" width="5.99" height="9.2" fill="#e3191c"/>
<rect x="1388.47" y="1349.5" width="1.2" height="9.2" fill="#f9a0a0"/>
<rect x="1395.96" y="1349.5" width="40.96" height="9.2" fill="#e3191c"/>
<rect x="1438.92" y="1349.5" width="33.97" height="9.2" fill="#e3191c"/>
<rect x="1487.87" y="1349.5" width="7.99" height="9.2" fill="#e3191c"/>
<rect x="1503.85" y="1349.5" width="5" height="9.2" fill="#e3191c"/>
<rect x="1528.83" y="1349.5" width="7.99" height="9.2" fill="#e3191c"/>
<rect x="1565.79" y="1349.5" width="28.97" height="9.2" fill="#e3191c"/>
<rect x="1362" y="1367.5" width="237.7" height="9.2" fill="#e5e5e5"/>
<rect x="1362.59" y="1367.5" width="5.99" height="9.2" fill="#1f78b4"/>
<rect x="1393.46" y="1367.5" width="1.2" height="9.2" fill="#a6cee3"/>
<rect x="1400.55" y="1367.5" width="13.99" height="9.2" fill="#1f78b4"/>
<rect x="1417.94" y="1367.5" width="24.98" height="9.2" fill="#1f78b4"/>
<rect x="1500.35" y="1367.5" width="1.2" height="9.2" fill="#a6cee3"/>
<rect x="1523.33" y="1367.5" width="1.2" height="9.2" fill="#a6cee3"/>
<rect x="1362" y="1378.5" width="237.7" height="9" fill="#e5e5e5"/>
<rect x="1364.99" y="1378.5" width="1.3" height="9" fill="#a6cee3"/>
<rect x="1367.59" y="1378.5" width="1.3" height="9" fill="#a6cee3"/>
<rect x="1370.89" y="1378.5" width="1.3" height="9" fill="#a6cee3"/>
<rect x="1377.98" y="1378.5" width="12.99" height="9" fill="#1f78b4"/>
<rect x="1397.46" y="1378.5" width="1.2" height="9" fill="#a6cee3"/>
<rect x="1414.44" y="1378.5" width="1.2" height="9" fill="#a6cee3"/>
<rect x="1443.91" y="1378.5" width="55.34" height="9" fill="#1f78b4"/>
<rect x="1502.25" y="1378.5" width="20.18" height="9" fill="#1f78b4"/>
<rect x="1524.83" y="1378.5" width="74.87" height="9" fill="#1f78b4"/>
<rect x="1360.5" y="1360" width="240.2" height="5" rx="2.5" fill="#7d7d7d" stroke="#000" stroke-width="2.5"/>
<text x="1336" y="1383.5" font-size="28.8" text-anchor="end" fill="#000" font-weight="normal" stroke="#000" stroke-width="0.4" >chr18</text>
<rect x="1362" y="1429.8" width="255.8" height="9.2" fill="#e5e5e5"/>
<rect x="1363.17" y="1429.8" width="2.18" height="9.2" fill="#f9a0a0"/>
<rect x="1373.42" y="1429.8" width="6.54" height="9.2" fill="#e3191c"/>
<rect x="1386.94" y="1429.8" width="6.98" height="9.2" fill="#e3191c"/>
<rect x="1417.9" y="1429.8" width="11.77" height="9.2" fill="#e3191c"/>
<rect x="1439.49" y="1429.8" width="2.18" height="9.2" fill="#f9a0a0"/>
<rect x="1462.82" y="1429.8" width="55.39" height="9.2" fill="#e3191c"/>
<rect x="1523.88" y="1429.8" width="6.11" height="9.2" fill="#e3191c"/>
<rect x="1566.18" y="1429.8" width="47.97" height="9.2" fill="#e3191c"/>
<rect x="1362" y="1441.3" width="255.8" height="9.2" fill="#e5e5e5"/>
<rect x="1362.52" y="1441.3" width="10.47" height="9.2" fill="#e3191c"/>
<rect x="1379.96" y="1441.3" width="5.23" height="9.2" fill="#e3191c"/>
<rect x="1395.22" y="1441.3" width="21.37" height="9.2" fill="#e3191c"/>
<rect x="1430.99" y="1441.3" width="8.72" height="9.2" fill="#e3191c"/>
<rect x="1443.2" y="1441.3" width="18.32" height="9.2" fill="#e3191c"/>
<rect x="1519.3" y="1441.3" width="2.18" height="9.2" fill="#f9a0a0"/>
<rect x="1531.29" y="1441.3" width="33.58" height="9.2" fill="#e3191c"/>
<rect x="1362" y="1459.3" width="255.8" height="9.2" fill="#e5e5e5"/>
<rect x="1362.52" y="1459.3" width="9.59" height="9.2" fill="#1f78b4"/>
<rect x="1444.07" y="1459.3" width="8.72" height="9.2" fill="#1f78b4"/>
<rect x="1465" y="1459.3" width="22.68" height="9.2" fill="#1f78b4"/>
<rect x="1508.61" y="1459.3" width="11.77" height="9.2" fill="#1f78b4"/>
<rect x="1534.34" y="1459.3" width="82.86" height="9.2" fill="#1f78b4"/>
<rect x="1362" y="1470.3" width="255.8" height="9" fill="#e5e5e5"/>
<rect x="1373.42" y="1470.3" width="11.77" height="9" fill="#1f78b4"/>
<rect x="1388.25" y="1470.3" width="52.33" height="9" fill="#1f78b4"/>
<rect x="1454.1" y="1470.3" width="10.47" height="9" fill="#1f78b4"/>
<rect x="1488.55" y="1470.3" width="18.75" height="9" fill="#1f78b4"/>
<rect x="1521.7" y="1470.3" width="11.77" height="9" fill="#1f78b4"/>
<rect x="1360.5" y="1451.8" width="258.3" height="5" rx="2.5" fill="#7d7d7d" stroke="#000" stroke-width="2.5"/>
<text x="1336" y="1475.3" font-size="28.8" text-anchor="end" fill="#000" font-weight="normal" stroke="#000" stroke-width="0.4" >chr19</text>
<polygon points="1354.7,1418.3 1370.3,1418.3 1362.5,1429.3" fill="#aaaaaa"/>
<polygon points="1354.7,1491.3 1370.3,1491.3 1362.5,1480.3" fill="#aaaaaa"/>
<rect x="1362" y="1521.6" width="225" height="9.2" fill="#e5e5e5"/>
<rect x="1364.7" y="1521.6" width="22.68" height="9.2" fill="#e3191c"/>
<rect x="1505.12" y="1521.6" width="19.62" height="9.2" fill="#e3191c"/>
<rect x="1532.6" y="1521.6" width="6.11" height="9.2" fill="#e3191c"/>
<rect x="1540.89" y="1521.6" width="20.06" height="9.2" fill="#e3191c"/>
<rect x="1583.84" y="1521.6" width="2.18" height="9.2" fill="#f9a0a0"/>
<rect x="1362" y="1533.1" width="225" height="9.2" fill="#e5e5e5"/>
<rect x="1362.3" y="1533.1" width="2.18" height="9.2" fill="#f9a0a0"/>
<rect x="1388.68" y="1533.1" width="115.57" height="9.2" fill="#e3191c"/>
<rect x="1526.06" y="1533.1" width="5.23" height="9.2" fill="#e3191c"/>
<rect x="1561.82" y="1533.1" width="20.5" height="9.2" fill="#e3191c"/>
<rect x="1362" y="1551.1" width="225" height="9.2" fill="#e5e5e5"/>
<rect x="1363.39" y="1551.1" width="1.3" height="9.2" fill="#a6cee3"/>
<rect x="1365.99" y="1551.1" width="1.3" height="9.2" fill="#a6cee3"/>
<rect x="1369.29" y="1551.1" width="1.3" height="9.2" fill="#a6cee3"/>
<rect x="1408.31" y="1551.1" width="47.54" height="9.2" fill="#1f78b4"/>
<rect x="1533.47" y="1551.1" width="23.99" height="9.2" fill="#1f78b4"/>
<rect x="1362" y="1562.1" width="225" height="9" fill="#e5e5e5"/>
<rect x="1364.7" y="1562.1" width="7.41" height="9" fill="#1f78b4"/>
<rect x="1375.6" y="1562.1" width="32.27" height="9" fill="#1f78b4"/>
<rect x="1456.72" y="1562.1" width="75.45" height="9" fill="#1f78b4"/>
<rect x="1557.68" y="1562.1" width="2.18" height="9" fill="#a6cee3"/>
<rect x="1560.51" y="1562.1" width="26.49" height="9" fill="#1f78b4"/>
<rect x="1360.5" y="1543.6" width="227.5" height="5" rx="2.5" fill="#7d7d7d" stroke="#000" stroke-width="2.5"/>
<text x="1336" y="1567.1" font-size="28.8" text-anchor="end" fill="#000" font-weight="normal" stroke="#000" stroke-width="0.4" >chr20</text>
<polygon points="1354.7,1510.1 1370.3,1510.1 1362.5,1521.1" fill="#aaaaaa"/>
<polygon points="1354.7,1583.1 1370.3,1583.1 1362.5,1572.1" fill="#aaaaaa"/>
<rect x="1362" y="1613.4" width="256.7" height="9.2" fill="#e5e5e5"/>
<rect x="1373.42" y="1613.4" width="37.94" height="9.2" fill="#e3191c"/>
<rect x="1422.26" y="1613.4" width="34.89" height="9.2" fill="#e3191c"/>
<rect x="1520.39" y="1613.4" width="10.9" height="9.2" fill="#e3191c"/>
<rect x="1534.56" y="1613.4" width="2.18" height="9.2" fill="#f9a0a0"/>
<rect x="1546.55" y="1613.4" width="9.59" height="9.2" fill="#e3191c"/>
<rect x="1564.87" y="1613.4" width="15.7" height="9.2" fill="#e3191c"/>
<rect x="1594.53" y="1613.4" width="1.3" height="9.2" fill="#f9a0a0"/>
<rect x="1597.13" y="1613.4" width="1.3" height="9.2" fill="#f9a0a0"/>
<rect x="1600.43" y="1613.4" width="1.3" height="9.2" fill="#f9a0a0"/>
<rect x="1604.43" y="1613.4" width="1.3" height="9.2" fill="#f9a0a0"/>
<rect x="1607.03" y="1613.4" width="1.3" height="9.2" fill="#f9a0a0"/>
<rect x="1610.33" y="1613.4" width="1.3" height="9.2" fill="#f9a0a0"/>
<rect x="1614.33" y="1613.4" width="1.3" height="9.2" fill="#f9a0a0"/>
<rect x="1362" y="1624.9" width="256.7" height="9.2" fill="#e5e5e5"/>
<rect x="1362.52" y="1624.9" width="10.47" height="9.2" fill="#e3191c"/>
<rect x="1412.23" y="1624.9" width="9.16" height="9.2" fill="#e3191c"/>
<rect x="1458.46" y="1624.9" width="60.62" height="9.2" fill="#e3191c"/>
<rect x="1537.83" y="1624.9" width="7.41" height="9.2" fill="#e3191c"/>
<rect x="1556.59" y="1624.9" width="7.41" height="9.2" fill="#e3191c"/>
<rect x="1581.44" y="1624.9" width="15.26" height="9.2" fill="#e3191c"/>
<rect x="1598.89" y="1624.9" width="7.85" height="9.2" fill="#e3191c"/>
<rect x="1615.24" y="1624.9" width="2.18" height="9.2" fill="#f9a0a0"/>
<rect x="1362" y="1642.9" width="256.7" height="9.2" fill="#e5e5e5"/>
<rect x="1363.39" y="1642.9" width="90.71" height="9.2" fill="#1f78b4"/>
<rect x="1460.64" y="1642.9" width="105.54" height="9.2" fill="#1f78b4"/>
<rect x="1603.25" y="1642.9" width="15.45" height="9.2" fill="#1f78b4"/>
<rect x="1362" y="1653.9" width="256.7" height="9" fill="#e5e5e5"/>
<rect x="1567.05" y="1653.9" width="29.66" height="9" fill="#1f78b4"/>
<rect x="1597.8" y="1653.9" width="2.18" height="9" fill="#a6cee3"/>
<rect x="1360.5" y="1635.4" width="259.2" height="5" rx="2.5" fill="#7d7d7d" stroke="#000" stroke-width="2.5"/>
<text x="1336" y="1658.9" font-size="28.8" text-anchor="end" fill="#000" font-weight="normal" stroke="#000" stroke-width="0.4" >chr21</text>
<polygon points="1448.75,1599.15 1468.25,1599.15 1458.5,1612.9" fill="#aaaaaa"/>
<polygon points="1447.25,1677.65 1466.75,1677.65 1457,1663.9" fill="#aaaaaa"/>
<rect x="1362" y="1705.2" width="253.3" height="9.2" fill="#e5e5e5"/>
<rect x="1369.16" y="1705.2" width="9.44" height="9.2" fill="#e3191c"/>
<rect x="1386.69" y="1705.2" width="11.73" height="9.2" fill="#e3191c"/>
<rect x="1428.16" y="1705.2" width="1.2" height="9.2" fill="#f9a0a0"/>
<rect x="1466.6" y="1705.2" width="1.2" height="9.2" fill="#f9a0a0"/>
<rect x="1479.41" y="1705.2" width="1.2" height="9.2" fill="#f9a0a0"/>
<rect x="1487.84" y="1705.2" width="40.46" height="9.2" fill="#e3191c"/>
<rect x="1532.34" y="1705.2" width="5.39" height="9.2" fill="#e3191c"/>
<rect x="1567.41" y="1705.2" width="27.65" height="9.2" fill="#e3191c"/>
<rect x="1600.11" y="1705.2" width="1.2" height="9.2" fill="#f9a0a0"/>
<rect x="1362" y="1716.7" width="253.3" height="9.2" fill="#e5e5e5"/>
<rect x="1362.42" y="1716.7" width="5.39" height="9.2" fill="#e3191c"/>
<rect x="1379.95" y="1716.7" width="5.39" height="9.2" fill="#e3191c"/>
<rect x="1400.18" y="1716.7" width="26.3" height="9.2" fill="#e3191c"/>
<rect x="1433.89" y="1716.7" width="30.61" height="9.2" fill="#e3191c"/>
<rect x="1470.31" y="1716.7" width="7.42" height="9.2" fill="#e3191c"/>
<rect x="1484.13" y="1716.7" width="1.2" height="9.2" fill="#f9a0a0"/>
<rect x="1529.98" y="1716.7" width="1.2" height="9.2" fill="#f9a0a0"/>
<rect x="1539.09" y="1716.7" width="26.3" height="9.2" fill="#e3191c"/>
<rect x="1597.41" y="1716.7" width="1.2" height="9.2" fill="#f9a0a0"/>
<rect x="1603.82" y="1716.7" width="11.46" height="9.2" fill="#e3191c"/>
<rect x="1362" y="1734.7" width="253.3" height="9.2" fill="#e5e5e5"/>
<rect x="1363.09" y="1734.7" width="1.3" height="9.2" fill="#a6cee3"/>
<rect x="1365.69" y="1734.7" width="1.3" height="9.2" fill="#a6cee3"/>
<rect x="1368.99" y="1734.7" width="1.3" height="9.2" fill="#a6cee3"/>
<rect x="1372.99" y="1734.7" width="1.3" height="9.2" fill="#a6cee3"/>
<rect x="1375.59" y="1734.7" width="1.3" height="9.2" fill="#a6cee3"/>
<rect x="1378.89" y="1734.7" width="1.3" height="9.2" fill="#a6cee3"/>
<rect x="1382.89" y="1734.7" width="1.3" height="9.2" fill="#a6cee3"/>
<rect x="1385.49" y="1734.7" width="1.3" height="9.2" fill="#a6cee3"/>
<rect x="1387.37" y="1734.7" width="15.51" height="9.2" fill="#1f78b4"/>
<rect x="1407.6" y="1734.7" width="12.81" height="9.2" fill="#1f78b4"/>
<rect x="1430.86" y="1734.7" width="1.2" height="9.2" fill="#a6cee3"/>
<rect x="1479.07" y="1734.7" width="17.53" height="9.2" fill="#1f78b4"/>
<rect x="1530.32" y="1734.7" width="1.3" height="9.2" fill="#a6cee3"/>
<rect x="1532.92" y="1734.7" width="1.3" height="9.2" fill="#a6cee3"/>
<rect x="1536.22" y="1734.7" width="1.3" height="9.2" fill="#a6cee3"/>
<rect x="1541.78" y="1734.7" width="19.55" height="9.2" fill="#1f78b4"/>
<rect x="1562.01" y="1734.7" width="16.18" height="9.2" fill="#1f78b4"/>
<rect x="1583.59" y="1734.7" width="10.11" height="9.2" fill="#1f78b4"/>
<rect x="1595.05" y="1734.7" width="6.74" height="9.2" fill="#1f78b4"/>
<rect x="1362" y="1745.7" width="253.3" height="9" fill="#e5e5e5"/>
<rect x="1362.42" y="1745.7" width="6.07" height="9" fill="#1f78b4"/>
<rect x="1371.18" y="1745.7" width="1.3" height="9" fill="#a6cee3"/>
<rect x="1373.78" y="1745.7" width="1.3" height="9" fill="#a6cee3"/>
<rect x="1379.95" y="1745.7" width="5.39" height="9" fill="#1f78b4"/>
<rect x="1404.56" y="1745.7" width="1.2" height="9" fill="#a6cee3"/>
<rect x="1421.76" y="1745.7" width="6.07" height="9" fill="#1f78b4"/>
<rect x="1436.59" y="1745.7" width="40.46" height="9" fill="#1f78b4"/>
<rect x="1497.95" y="1745.7" width="28.32" height="9" fill="#1f78b4"/>
<rect x="1538.07" y="1745.7" width="1.2" height="9" fill="#a6cee3"/>
<rect x="1579.88" y="1745.7" width="1.2" height="9" fill="#a6cee3"/>
<rect x="1603.82" y="1745.7" width="11.46" height="9" fill="#1f78b4"/>
<rect x="1360.5" y="1727.2" width="255.8" height="5" rx="2.5" fill="#7d7d7d" stroke="#000" stroke-width="2.5"/>
<text x="1336" y="1750.7" font-size="28.8" text-anchor="end" fill="#000" font-weight="normal" stroke="#000" stroke-width="0.4" >chr22</text>
<polygon points="1471.38,1694.8 1485.42,1694.8 1478.4,1704.7" fill="#aaaaaa"/>
<polygon points="1470.58,1765.6 1484.62,1765.6 1477.6,1755.7" fill="#aaaaaa"/>
<rect x="1362" y="1797" width="745.5" height="9.2" fill="#e5e5e5"/>
<rect x="1362.79" y="1797" width="1.3" height="9.2" fill="#f9a0a0"/>
<rect x="1365.39" y="1797" width="1.3" height="9.2" fill="#f9a0a0"/>
<rect x="1368.69" y="1797" width="1.3" height="9.2" fill="#f9a0a0"/>
<rect x="1372.69" y="1797" width="1.3" height="9.2" fill="#f9a0a0"/>
<rect x="1375.29" y="1797" width="1.3" height="9.2" fill="#f9a0a0"/>
<rect x="1378.59" y="1797" width="1.3" height="9.2" fill="#f9a0a0"/>
<rect x="1380.33" y="1797" width="5.84" height="9.2" fill="#e3191c"/>
<rect x="1387.14" y="1797" width="6.82" height="9.2" fill="#e3191c"/>
<rect x="1447.64" y="1797" width="1.2" height="9.2" fill="#f9a0a0"/>
<rect x="1455.82" y="1797" width="1.2" height="9.2" fill="#f9a0a0"/>
<rect x="1462.64" y="1797" width="1.2" height="9.2" fill="#f9a0a0"/>
<rect x="1471.4" y="1797" width="1.2" height="9.2" fill="#f9a0a0"/>
<rect x="1490.89" y="1797" width="1.2" height="9.2" fill="#f9a0a0"/>
<rect x="1547.87" y="1797" width="7.79" height="9.2" fill="#e3191c"/>
<rect x="1569.3" y="1797" width="8.77" height="9.2" fill="#e3191c"/>
<rect x="1581.48" y="1797" width="1.2" height="9.2" fill="#f9a0a0"/>
<rect x="1597.55" y="1797" width="1.3" height="9.2" fill="#f9a0a0"/>
<rect x="1600.15" y="1797" width="1.3" height="9.2" fill="#f9a0a0"/>
<rect x="1603.45" y="1797" width="1.3" height="9.2" fill="#f9a0a0"/>
<rect x="1607.45" y="1797" width="1.3" height="9.2" fill="#f9a0a0"/>
<rect x="1610.05" y="1797" width="1.3" height="9.2" fill="#f9a0a0"/>
<rect x="1613.35" y="1797" width="1.3" height="9.2" fill="#f9a0a0"/>
<rect x="1617.35" y="1797" width="1.3" height="9.2" fill="#f9a0a0"/>
<rect x="1619.95" y="1797" width="1.3" height="9.2" fill="#f9a0a0"/>
<rect x="1623.25" y="1797" width="1.3" height="9.2" fill="#f9a0a0"/>
<rect x="1627.25" y="1797" width="1.3" height="9.2" fill="#f9a0a0"/>
<rect x="1629.85" y="1797" width="1.3" height="9.2" fill="#f9a0a0"/>
<rect x="1633.15" y="1797" width="1.3" height="9.2" fill="#f9a0a0"/>
<rect x="1637.15" y="1797" width="1.3" height="9.2" fill="#f9a0a0"/>
<rect x="1639.75" y="1797" width="1.3" height="9.2" fill="#f9a0a0"/>
<rect x="1643.05" y="1797" width="1.3" height="9.2" fill="#f9a0a0"/>
<rect x="1647.05" y="1797" width="1.3" height="9.2" fill="#f9a0a0"/>
<rect x="1649.65" y="1797" width="1.3" height="9.2" fill="#f9a0a0"/>
<rect x="1652.95" y="1797" width="1.3" height="9.2" fill="#f9a0a0"/>
<rect x="1656.95" y="1797" width="1.3" height="9.2" fill="#f9a0a0"/>
<rect x="1659.55" y="1797" width="1.3" height="9.2" fill="#f9a0a0"/>
<rect x="1662.85" y="1797" width="1.3" height="9.2" fill="#f9a0a0"/>
<rect x="1669.63" y="1797" width="7.79" height="9.2" fill="#e3191c"/>
<rect x="1685.22" y="1797" width="8.77" height="9.2" fill="#e3191c"/>
<rect x="1701.78" y="1797" width="1.3" height="9.2" fill="#f9a0a0"/>
<rect x="1704.38" y="1797" width="1.3" height="9.2" fill="#f9a0a0"/>
<rect x="1707.68" y="1797" width="1.3" height="9.2" fill="#f9a0a0"/>
<rect x="1711.68" y="1797" width="1.3" height="9.2" fill="#f9a0a0"/>
<rect x="1714.28" y="1797" width="1.3" height="9.2" fill="#f9a0a0"/>
<rect x="1717.58" y="1797" width="1.3" height="9.2" fill="#f9a0a0"/>
<rect x="1721.58" y="1797" width="1.3" height="9.2" fill="#f9a0a0"/>
<rect x="1724.18" y="1797" width="1.3" height="9.2" fill="#f9a0a0"/>
<rect x="1727.48" y="1797" width="1.3" height="9.2" fill="#f9a0a0"/>
<rect x="1731.48" y="1797" width="1.3" height="9.2" fill="#f9a0a0"/>
<rect x="1734.08" y="1797" width="1.3" height="9.2" fill="#f9a0a0"/>
<rect x="1735.97" y="1797" width="4.84" height="9.2" fill="#e3191c"/>
<rect x="1745.66" y="1797" width="1.3" height="9.2" fill="#f9a0a0"/>
<rect x="1748.26" y="1797" width="1.3" height="9.2" fill="#f9a0a0"/>
<rect x="1751.56" y="1797" width="1.3" height="9.2" fill="#f9a0a0"/>
<rect x="1755.56" y="1797" width="1.3" height="9.2" fill="#f9a0a0"/>
<rect x="1758.16" y="1797" width="1.3" height="9.2" fill="#f9a0a0"/>
<rect x="1761.46" y="1797" width="1.3" height="9.2" fill="#f9a0a0"/>
<rect x="1765.46" y="1797" width="1.3" height="9.2" fill="#f9a0a0"/>
<rect x="1783.06" y="1797" width="6.59" height="9.2" fill="#e3191c"/>
<rect x="1806.22" y="1797" width="1.2" height="9.2" fill="#f9a0a0"/>
<rect x="1817.85" y="1797" width="1.2" height="9.2" fill="#f9a0a0"/>
<rect x="1823.18" y="1797" width="12.6" height="9.2" fill="#e3191c"/>
<rect x="1846.43" y="1797" width="5.81" height="9.2" fill="#e3191c"/>
<rect x="1862.42" y="1797" width="1.2" height="9.2" fill="#f9a0a0"/>
<rect x="1872.6" y="1797" width="8.72" height="9.2" fill="#e3191c"/>
<rect x="1903.99" y="1797" width="6.4" height="9.2" fill="#e3191c"/>
<rect x="1927.34" y="1797" width="1.2" height="9.2" fill="#f9a0a0"/>
<rect x="1980.16" y="1797" width="6.78" height="9.2" fill="#e3191c"/>
<rect x="2007.77" y="1797" width="1.2" height="9.2" fill="#f9a0a0"/>
<rect x="2014.07" y="1797" width="9.69" height="9.2" fill="#e3191c"/>
<rect x="2042.66" y="1797" width="1.2" height="9.2" fill="#f9a0a0"/>
<rect x="2060.58" y="1797" width="20.35" height="9.2" fill="#e3191c"/>
<rect x="2084.81" y="1797" width="11.63" height="9.2" fill="#e3191c"/>
<rect x="2105.64" y="1797" width="1.2" height="9.2" fill="#f9a0a0"/>
<rect x="1362" y="1808.5" width="745.5" height="9.2" fill="#e5e5e5"/>
<rect x="1362.79" y="1808.5" width="1.3" height="9.2" fill="#f9a0a0"/>
<rect x="1365.39" y="1808.5" width="1.3" height="9.2" fill="#f9a0a0"/>
<rect x="1368.69" y="1808.5" width="1.3" height="9.2" fill="#f9a0a0"/>
<rect x="1372.69" y="1808.5" width="1.3" height="9.2" fill="#f9a0a0"/>
<rect x="1375.29" y="1808.5" width="1.3" height="9.2" fill="#f9a0a0"/>
<rect x="1378.59" y="1808.5" width="1.3" height="9.2" fill="#f9a0a0"/>
<rect x="1382.59" y="1808.5" width="1.3" height="9.2" fill="#f9a0a0"/>
<rect x="1385.19" y="1808.5" width="1.3" height="9.2" fill="#f9a0a0"/>
<rect x="1388.49" y="1808.5" width="1.3" height="9.2" fill="#f9a0a0"/>
<rect x="1392.49" y="1808.5" width="1.3" height="9.2" fill="#f9a0a0"/>
<rect x="1396.3" y="1808.5" width="49.29" height="9.2" fill="#e3191c"/>
<rect x="1450.46" y="1808.5" width="5.84" height="9.2" fill="#e3191c"/>
<rect x="1458.25" y="1808.5" width="11.69" height="9.2" fill="#e3191c"/>
<rect x="1473.84" y="1808.5" width="15.59" height="9.2" fill="#e3191c"/>
<rect x="1493.71" y="1808.5" width="53.19" height="9.2" fill="#e3191c"/>
<rect x="1551.28" y="1808.5" width="1.2" height="9.2" fill="#f9a0a0"/>
<rect x="1557.61" y="1808.5" width="10.71" height="9.2" fill="#e3191c"/>
<rect x="1578.55" y="1808.5" width="1.2" height="9.2" fill="#f9a0a0"/>
<rect x="1585.86" y="1808.5" width="10.71" height="9.2" fill="#e3191c"/>
<rect x="1600.47" y="1808.5" width="1.3" height="9.2" fill="#f9a0a0"/>
<rect x="1603.07" y="1808.5" width="1.3" height="9.2" fill="#f9a0a0"/>
<rect x="1608.26" y="1808.5" width="3.9" height="9.2" fill="#e3191c"/>
<rect x="1616.06" y="1808.5" width="1.3" height="9.2" fill="#f9a0a0"/>
<rect x="1618.66" y="1808.5" width="1.3" height="9.2" fill="#f9a0a0"/>
<rect x="1621.96" y="1808.5" width="1.3" height="9.2" fill="#f9a0a0"/>
<rect x="1627.36" y="1808.5" width="7.21" height="9.2" fill="#e3191c"/>
<rect x="1637.49" y="1808.5" width="1.3" height="9.2" fill="#f9a0a0"/>
<rect x="1640.09" y="1808.5" width="1.3" height="9.2" fill="#f9a0a0"/>
<rect x="1643.39" y="1808.5" width="1.3" height="9.2" fill="#f9a0a0"/>
<rect x="1647.39" y="1808.5" width="1.3" height="9.2" fill="#f9a0a0"/>
<rect x="1649.99" y="1808.5" width="1.3" height="9.2" fill="#f9a0a0"/>
<rect x="1653.29" y="1808.5" width="1.3" height="9.2" fill="#f9a0a0"/>
<rect x="1657.29" y="1808.5" width="1.3" height="9.2" fill="#f9a0a0"/>
<rect x="1659.89" y="1808.5" width="1.3" height="9.2" fill="#f9a0a0"/>
<rect x="1663.19" y="1808.5" width="1.3" height="9.2" fill="#f9a0a0"/>
<rect x="1667.19" y="1808.5" width="1.3" height="9.2" fill="#f9a0a0"/>
<rect x="1669.79" y="1808.5" width="1.3" height="9.2" fill="#f9a0a0"/>
<rect x="1673.09" y="1808.5" width="1.3" height="9.2" fill="#f9a0a0"/>
<rect x="1677.09" y="1808.5" width="1.3" height="9.2" fill="#f9a0a0"/>
<rect x="1679.69" y="1808.5" width="1.3" height="9.2" fill="#f9a0a0"/>
<rect x="1682.99" y="1808.5" width="1.3" height="9.2" fill="#f9a0a0"/>
<rect x="1686.99" y="1808.5" width="1.3" height="9.2" fill="#f9a0a0"/>
<rect x="1689.59" y="1808.5" width="1.3" height="9.2" fill="#f9a0a0"/>
<rect x="1692.89" y="1808.5" width="1.3" height="9.2" fill="#f9a0a0"/>
<rect x="1696.91" y="1808.5" width="5.84" height="9.2" fill="#e3191c"/>
<rect x="1705.67" y="1808.5" width="1.3" height="9.2" fill="#f9a0a0"/>
<rect x="1708.27" y="1808.5" width="1.3" height="9.2" fill="#f9a0a0"/>
<rect x="1711.57" y="1808.5" width="1.3" height="9.2" fill="#f9a0a0"/>
<rect x="1717.75" y="1808.5" width="4.48" height="9.2" fill="#e3191c"/>
<rect x="1725.15" y="1808.5" width="1.3" height="9.2" fill="#f9a0a0"/>
<rect x="1727.75" y="1808.5" width="1.3" height="9.2" fill="#f9a0a0"/>
<rect x="1731.05" y="1808.5" width="1.3" height="9.2" fill="#f9a0a0"/>
<rect x="1742.75" y="1808.5" width="1.3" height="9.2" fill="#f9a0a0"/>
<rect x="1745.35" y="1808.5" width="1.3" height="9.2" fill="#f9a0a0"/>
<rect x="1748.65" y="1808.5" width="1.3" height="9.2" fill="#f9a0a0"/>
<rect x="1752.65" y="1808.5" width="1.3" height="9.2" fill="#f9a0a0"/>
<rect x="1755.93" y="1808.5" width="4.26" height="9.2" fill="#e3191c"/>
<rect x="1768.33" y="1808.5" width="13.57" height="9.2" fill="#e3191c"/>
<rect x="1790.81" y="1808.5" width="14.92" height="9.2" fill="#e3191c"/>
<rect x="1808.26" y="1808.5" width="8.14" height="9.2" fill="#e3191c"/>
<rect x="1820.76" y="1808.5" width="1.2" height="9.2" fill="#f9a0a0"/>
<rect x="1837.71" y="1808.5" width="3.88" height="9.2" fill="#e3191c"/>
<rect x="1855.16" y="1808.5" width="5.43" height="9.2" fill="#e3191c"/>
<rect x="1866.4" y="1808.5" width="5.23" height="9.2" fill="#e3191c"/>
<rect x="1883.74" y="1808.5" width="1.2" height="9.2" fill="#f9a0a0"/>
<rect x="1889.07" y="1808.5" width="13.57" height="9.2" fill="#e3191c"/>
<rect x="1911.74" y="1808.5" width="15.12" height="9.2" fill="#e3191c"/>
<rect x="1930.74" y="1808.5" width="30.04" height="9.2" fill="#e3191c"/>
<rect x="1962.71" y="1808.5" width="14.53" height="9.2" fill="#e3191c"/>
<rect x="1988.49" y="1808.5" width="15.89" height="9.2" fill="#e3191c"/>
<rect x="2013.59" y="1808.5" width="1.2" height="9.2" fill="#f9a0a0"/>
<rect x="2028.6" y="1808.5" width="12.6" height="9.2" fill="#e3191c"/>
<rect x="2043.14" y="1808.5" width="6.78" height="9.2" fill="#e3191c"/>
<rect x="2051.86" y="1808.5" width="7.75" height="9.2" fill="#e3191c"/>
<rect x="2081.41" y="1808.5" width="1.2" height="9.2" fill="#f9a0a0"/>
<rect x="2097.4" y="1808.5" width="1.3" height="9.2" fill="#f9a0a0"/>
<rect x="2100" y="1808.5" width="1.3" height="9.2" fill="#f9a0a0"/>
<rect x="2103.3" y="1808.5" width="1.3" height="9.2" fill="#f9a0a0"/>
<rect x="1360.5" y="1819" width="748" height="5" rx="2.5" fill="#7d7d7d" stroke="#000" stroke-width="2.5"/>
<text x="1336" y="1842.5" font-size="28.8" text-anchor="end" fill="#000" font-weight="normal" stroke="#000" stroke-width="0.4" >chrX</text>
<polygon points="1642.5,1785.5 1658.1,1785.5 1650.3,1796.5" fill="#aaaaaa"/>
<polygon points="2102.17,1787.15 2115.43,1787.15 2108.8,1796.5" fill="#000"/>
<rect x="1362" y="1918.3" width="24.7" height="9.2" fill="#e5e5e5"/>
<rect x="1362.52" y="1918.3" width="1.3" height="9.2" fill="#a6cee3"/>
<rect x="1365.12" y="1918.3" width="1.3" height="9.2" fill="#a6cee3"/>
<rect x="1368.42" y="1918.3" width="1.3" height="9.2" fill="#a6cee3"/>
<rect x="1372.42" y="1918.3" width="1.3" height="9.2" fill="#a6cee3"/>
<rect x="1375.02" y="1918.3" width="1.3" height="9.2" fill="#a6cee3"/>
<rect x="1378.32" y="1918.3" width="1.3" height="9.2" fill="#a6cee3"/>
<rect x="1382.32" y="1918.3" width="1.3" height="9.2" fill="#a6cee3"/>
<rect x="1384.92" y="1918.3" width="1.3" height="9.2" fill="#a6cee3"/>
<rect x="1362" y="1929.3" width="24.7" height="9" fill="#e5e5e5"/>
<rect x="1363.39" y="1929.3" width="1.3" height="9" fill="#a6cee3"/>
<rect x="1365.99" y="1929.3" width="1.3" height="9" fill="#a6cee3"/>
<rect x="1369.29" y="1929.3" width="1.3" height="9" fill="#a6cee3"/>
<rect x="1373.29" y="1929.3" width="1.3" height="9" fill="#a6cee3"/>
<rect x="1375.89" y="1929.3" width="1.3" height="9" fill="#a6cee3"/>
<rect x="1379.19" y="1929.3" width="1.3" height="9" fill="#a6cee3"/>
<rect x="1383.19" y="1929.3" width="1.3" height="9" fill="#a6cee3"/>
<rect x="1385.79" y="1929.3" width="1.3" height="9" fill="#a6cee3"/>
<rect x="1360.5" y="1910.8" width="27.2" height="5" rx="2.5" fill="#7d7d7d" stroke="#000" stroke-width="2.5"/>
<text x="1336" y="1934.3" font-size="28.8" text-anchor="end" fill="#000" font-weight="normal" stroke="#000" stroke-width="0.4" >chrY</text>
<rect x="985.5" y="1726.6" width="24.5" height="8" fill="#e3191c"/>
<rect x="985.5" y="1760.4" width="24.5" height="8" fill="#f9a0a0"/>
<rect x="985.5" y="1804" width="24.5" height="8" fill="#1f78b4"/>
<rect x="985.5" y="1838.3" width="24.5" height="8" fill="#a6cee3"/>
<text x="1020" y="1735.7" font-size="24.5" text-anchor="start" fill="#000" font-weight="normal" stroke="#000" stroke-width="0.4" >contig≥1Mb</text>
<text x="1020" y="1768.8" font-size="24.5" text-anchor="start" fill="#000" font-weight="normal" stroke="#000" stroke-width="0.4" >contig&lt;1Mb</text>
<text x="1020" y="1812.3" font-size="24.5" text-anchor="start" fill="#000" font-weight="normal" stroke="#000" stroke-width="0.4" >contig≥1Mb</text>
<text x="1020" y="1846.8" font-size="24.5" text-anchor="start" fill="#000" font-weight="normal" stroke="#000" stroke-width="0.4" >contig&lt;1Mb</text>
<line x1="1158" y1="1726.6" x2="1158" y2="1768.2" stroke="#222" stroke-width="2"/>
<line x1="1158" y1="1804" x2="1158" y2="1846" stroke="#222" stroke-width="2"/>
<text x="1167" y="1752.6" font-size="24.5" text-anchor="start" fill="#000" font-weight="normal" stroke="#000" stroke-width="0.4" >mat</text>
<text x="1167" y="1829" font-size="24.5" text-anchor="start" fill="#000" font-weight="normal" stroke="#000" stroke-width="0.4" >pat</text>
<polygon points="989.5,1876 1005.7,1876 997.6,1890" fill="#aaaaaa"/>
<polygon points="988.8,1913 1007,1913 997.9,1928.6" fill="#000"/>
<text x="1020" y="1889.6" font-size="24.5" text-anchor="start" fill="#000" font-weight="normal" stroke="#000" stroke-width="0.4" >centromere</text>
<text x="1020" y="1926.6" font-size="24.5" text-anchor="start" fill="#000" font-weight="normal" stroke="#000" stroke-width="0.4" >telomere</text>
</svg>
</body></html>
